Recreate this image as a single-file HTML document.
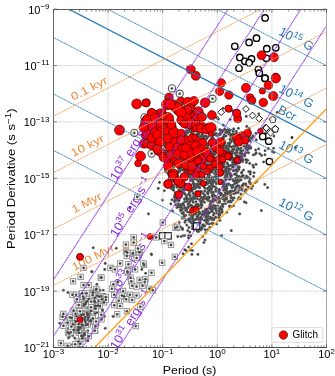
<!DOCTYPE html><html><head><meta charset="utf-8"><style>html,body{margin:0;padding:0;background:#fff;}svg{display:block;font-family:"Liberation Sans",sans-serif;will-change:transform;}</style></head><body>
<svg width="335" height="376" viewBox="0 0 335 376" xmlns="http://www.w3.org/2000/svg">
<defs><clipPath id="c"><rect x="53.5" y="9.1" width="273.0" height="338.4"/></clipPath></defs>
<g clip-path="url(#c)">
<g fill="#3c3c3c" stroke="#888" stroke-width="0.3">
<circle cx="190.4" cy="141.1" r="1.3"/>
<circle cx="221.2" cy="132.8" r="1.3"/>
<circle cx="210.4" cy="164.1" r="1.3"/>
<circle cx="199.9" cy="213.5" r="1.3"/>
<circle cx="171.6" cy="148.9" r="1.3"/>
<circle cx="214.2" cy="167.4" r="1.3"/>
<circle cx="240.7" cy="156.0" r="1.3"/>
<circle cx="173.6" cy="137.6" r="1.3"/>
<circle cx="189.0" cy="212.3" r="1.3"/>
<circle cx="177.0" cy="187.2" r="1.3"/>
<circle cx="220.1" cy="164.8" r="1.3"/>
<circle cx="211.5" cy="131.7" r="1.3"/>
<circle cx="165.6" cy="147.0" r="1.3"/>
<circle cx="224.0" cy="170.8" r="1.3"/>
<circle cx="189.5" cy="187.7" r="1.3"/>
<circle cx="202.6" cy="157.1" r="1.3"/>
<circle cx="182.9" cy="186.5" r="1.3"/>
<circle cx="209.4" cy="218.6" r="1.3"/>
<circle cx="228.6" cy="155.8" r="1.3"/>
<circle cx="252.1" cy="137.6" r="1.3"/>
<circle cx="199.3" cy="206.0" r="1.3"/>
<circle cx="174.3" cy="177.3" r="1.3"/>
<circle cx="231.9" cy="186.3" r="1.3"/>
<circle cx="242.3" cy="158.6" r="1.3"/>
<circle cx="225.4" cy="188.6" r="1.3"/>
<circle cx="214.5" cy="173.8" r="1.3"/>
<circle cx="204.6" cy="196.1" r="1.3"/>
<circle cx="237.3" cy="155.5" r="1.3"/>
<circle cx="196.3" cy="196.5" r="1.3"/>
<circle cx="175.8" cy="137.5" r="1.3"/>
<circle cx="172.2" cy="151.5" r="1.3"/>
<circle cx="196.7" cy="218.2" r="1.3"/>
<circle cx="167.6" cy="173.1" r="1.3"/>
<circle cx="211.6" cy="219.5" r="1.3"/>
<circle cx="186.2" cy="169.4" r="1.3"/>
<circle cx="193.7" cy="219.6" r="1.3"/>
<circle cx="250.0" cy="141.1" r="1.3"/>
<circle cx="176.6" cy="149.8" r="1.3"/>
<circle cx="181.9" cy="176.9" r="1.3"/>
<circle cx="215.4" cy="153.1" r="1.3"/>
<circle cx="194.7" cy="185.6" r="1.3"/>
<circle cx="208.5" cy="191.1" r="1.3"/>
<circle cx="223.6" cy="130.8" r="1.3"/>
<circle cx="196.9" cy="167.7" r="1.3"/>
<circle cx="179.6" cy="142.4" r="1.3"/>
<circle cx="192.0" cy="130.6" r="1.3"/>
<circle cx="169.5" cy="163.9" r="1.3"/>
<circle cx="217.7" cy="140.9" r="1.3"/>
<circle cx="183.7" cy="162.2" r="1.3"/>
<circle cx="194.2" cy="138.1" r="1.3"/>
<circle cx="203.8" cy="176.8" r="1.3"/>
<circle cx="192.2" cy="153.3" r="1.3"/>
<circle cx="237.9" cy="142.3" r="1.3"/>
<circle cx="209.7" cy="140.7" r="1.3"/>
<circle cx="211.1" cy="127.9" r="1.3"/>
<circle cx="184.5" cy="164.2" r="1.3"/>
<circle cx="210.1" cy="208.4" r="1.3"/>
<circle cx="191.0" cy="148.9" r="1.3"/>
<circle cx="181.3" cy="180.4" r="1.3"/>
<circle cx="193.4" cy="128.1" r="1.3"/>
<circle cx="162.6" cy="154.9" r="1.3"/>
<circle cx="184.4" cy="199.1" r="1.3"/>
<circle cx="180.7" cy="149.3" r="1.3"/>
<circle cx="178.5" cy="146.9" r="1.3"/>
<circle cx="239.0" cy="176.3" r="1.3"/>
<circle cx="221.4" cy="210.6" r="1.3"/>
<circle cx="230.5" cy="176.1" r="1.3"/>
<circle cx="191.3" cy="210.7" r="1.3"/>
<circle cx="197.7" cy="226.3" r="1.3"/>
<circle cx="228.1" cy="143.2" r="1.3"/>
<circle cx="171.9" cy="141.2" r="1.3"/>
<circle cx="192.9" cy="183.7" r="1.3"/>
<circle cx="200.8" cy="218.3" r="1.3"/>
<circle cx="237.7" cy="147.6" r="1.3"/>
<circle cx="183.7" cy="156.3" r="1.3"/>
<circle cx="182.6" cy="187.7" r="1.3"/>
<circle cx="184.4" cy="169.8" r="1.3"/>
<circle cx="193.3" cy="174.0" r="1.3"/>
<circle cx="199.5" cy="223.2" r="1.3"/>
<circle cx="207.2" cy="181.9" r="1.3"/>
<circle cx="209.2" cy="127.0" r="1.3"/>
<circle cx="201.4" cy="144.6" r="1.3"/>
<circle cx="176.2" cy="175.7" r="1.3"/>
<circle cx="228.2" cy="184.5" r="1.3"/>
<circle cx="190.6" cy="180.5" r="1.3"/>
<circle cx="212.2" cy="208.9" r="1.3"/>
<circle cx="170.0" cy="185.0" r="1.3"/>
<circle cx="183.4" cy="154.6" r="1.3"/>
<circle cx="232.6" cy="179.3" r="1.3"/>
<circle cx="212.8" cy="206.3" r="1.3"/>
<circle cx="217.6" cy="179.1" r="1.3"/>
<circle cx="208.1" cy="199.1" r="1.3"/>
<circle cx="202.5" cy="182.1" r="1.3"/>
<circle cx="204.9" cy="225.7" r="1.3"/>
<circle cx="248.6" cy="152.8" r="1.3"/>
<circle cx="239.0" cy="139.7" r="1.3"/>
<circle cx="171.4" cy="172.3" r="1.3"/>
<circle cx="166.8" cy="150.7" r="1.3"/>
<circle cx="174.5" cy="201.6" r="1.3"/>
<circle cx="222.1" cy="140.3" r="1.3"/>
<circle cx="197.4" cy="177.1" r="1.3"/>
<circle cx="175.2" cy="171.2" r="1.3"/>
<circle cx="208.5" cy="161.3" r="1.3"/>
<circle cx="178.4" cy="159.1" r="1.3"/>
<circle cx="212.1" cy="172.1" r="1.3"/>
<circle cx="218.6" cy="179.8" r="1.3"/>
<circle cx="169.8" cy="153.4" r="1.3"/>
<circle cx="185.4" cy="138.9" r="1.3"/>
<circle cx="199.7" cy="222.5" r="1.3"/>
<circle cx="237.0" cy="152.7" r="1.3"/>
<circle cx="213.6" cy="199.9" r="1.3"/>
<circle cx="224.7" cy="170.5" r="1.3"/>
<circle cx="219.6" cy="210.8" r="1.3"/>
<circle cx="202.7" cy="161.3" r="1.3"/>
<circle cx="185.2" cy="138.8" r="1.3"/>
<circle cx="209.5" cy="150.5" r="1.3"/>
<circle cx="170.3" cy="142.3" r="1.3"/>
<circle cx="164.7" cy="146.6" r="1.3"/>
<circle cx="189.3" cy="157.6" r="1.3"/>
<circle cx="231.4" cy="156.0" r="1.3"/>
<circle cx="207.0" cy="144.0" r="1.3"/>
<circle cx="228.9" cy="184.0" r="1.3"/>
<circle cx="177.8" cy="175.8" r="1.3"/>
<circle cx="247.9" cy="136.4" r="1.3"/>
<circle cx="237.0" cy="171.2" r="1.3"/>
<circle cx="206.5" cy="214.3" r="1.3"/>
<circle cx="197.0" cy="179.2" r="1.3"/>
<circle cx="192.2" cy="214.1" r="1.3"/>
<circle cx="226.4" cy="193.0" r="1.3"/>
<circle cx="198.0" cy="162.2" r="1.3"/>
<circle cx="165.1" cy="138.9" r="1.3"/>
<circle cx="184.0" cy="142.5" r="1.3"/>
<circle cx="186.5" cy="150.9" r="1.3"/>
<circle cx="187.5" cy="174.2" r="1.3"/>
<circle cx="174.8" cy="172.7" r="1.3"/>
<circle cx="189.1" cy="163.2" r="1.3"/>
<circle cx="204.6" cy="178.8" r="1.3"/>
<circle cx="178.9" cy="179.0" r="1.3"/>
<circle cx="168.4" cy="167.7" r="1.3"/>
<circle cx="188.6" cy="149.9" r="1.3"/>
<circle cx="215.0" cy="181.6" r="1.3"/>
<circle cx="230.6" cy="195.4" r="1.3"/>
<circle cx="196.6" cy="159.9" r="1.3"/>
<circle cx="228.1" cy="193.8" r="1.3"/>
<circle cx="173.1" cy="181.0" r="1.3"/>
<circle cx="207.4" cy="214.3" r="1.3"/>
<circle cx="224.2" cy="199.2" r="1.3"/>
<circle cx="172.5" cy="163.6" r="1.3"/>
<circle cx="212.5" cy="192.2" r="1.3"/>
<circle cx="218.9" cy="197.8" r="1.3"/>
<circle cx="207.3" cy="182.3" r="1.3"/>
<circle cx="222.0" cy="132.1" r="1.3"/>
<circle cx="229.3" cy="152.0" r="1.3"/>
<circle cx="167.0" cy="153.4" r="1.3"/>
<circle cx="228.6" cy="147.0" r="1.3"/>
<circle cx="206.4" cy="165.9" r="1.3"/>
<circle cx="205.0" cy="198.2" r="1.3"/>
<circle cx="232.1" cy="191.0" r="1.3"/>
<circle cx="220.4" cy="133.3" r="1.3"/>
<circle cx="173.9" cy="152.2" r="1.3"/>
<circle cx="229.9" cy="157.6" r="1.3"/>
<circle cx="165.7" cy="153.8" r="1.3"/>
<circle cx="223.2" cy="199.1" r="1.3"/>
<circle cx="223.5" cy="156.1" r="1.3"/>
<circle cx="208.6" cy="174.7" r="1.3"/>
<circle cx="203.8" cy="137.7" r="1.3"/>
<circle cx="244.0" cy="146.3" r="1.3"/>
<circle cx="202.2" cy="153.7" r="1.3"/>
<circle cx="179.8" cy="187.2" r="1.3"/>
<circle cx="173.3" cy="181.1" r="1.3"/>
<circle cx="249.6" cy="139.2" r="1.3"/>
<circle cx="237.1" cy="179.4" r="1.3"/>
<circle cx="205.7" cy="127.7" r="1.3"/>
<circle cx="202.4" cy="157.3" r="1.3"/>
<circle cx="173.2" cy="161.8" r="1.3"/>
<circle cx="189.7" cy="214.9" r="1.3"/>
<circle cx="238.9" cy="137.8" r="1.3"/>
<circle cx="244.7" cy="156.0" r="1.3"/>
<circle cx="195.0" cy="167.0" r="1.3"/>
<circle cx="193.9" cy="170.8" r="1.3"/>
<circle cx="186.8" cy="225.1" r="1.3"/>
<circle cx="183.4" cy="153.4" r="1.3"/>
<circle cx="208.0" cy="145.3" r="1.3"/>
<circle cx="195.1" cy="227.3" r="1.3"/>
<circle cx="227.6" cy="130.3" r="1.3"/>
<circle cx="228.8" cy="173.2" r="1.3"/>
<circle cx="230.8" cy="194.0" r="1.3"/>
<circle cx="186.9" cy="130.2" r="1.3"/>
<circle cx="247.1" cy="138.6" r="1.3"/>
<circle cx="204.4" cy="161.8" r="1.3"/>
<circle cx="188.0" cy="204.1" r="1.3"/>
<circle cx="221.7" cy="157.2" r="1.3"/>
<circle cx="212.4" cy="167.2" r="1.3"/>
<circle cx="175.7" cy="142.3" r="1.3"/>
<circle cx="206.7" cy="148.5" r="1.3"/>
<circle cx="202.3" cy="139.9" r="1.3"/>
<circle cx="178.1" cy="134.7" r="1.3"/>
<circle cx="192.1" cy="134.7" r="1.3"/>
<circle cx="182.5" cy="152.6" r="1.3"/>
<circle cx="213.5" cy="219.9" r="1.3"/>
<circle cx="230.5" cy="169.2" r="1.3"/>
<circle cx="198.9" cy="181.1" r="1.3"/>
<circle cx="195.4" cy="161.2" r="1.3"/>
<circle cx="165.8" cy="154.7" r="1.3"/>
<circle cx="251.0" cy="138.5" r="1.3"/>
<circle cx="207.3" cy="192.4" r="1.3"/>
<circle cx="241.1" cy="148.1" r="1.3"/>
<circle cx="185.5" cy="151.6" r="1.3"/>
<circle cx="197.6" cy="172.7" r="1.3"/>
<circle cx="196.8" cy="224.2" r="1.3"/>
<circle cx="170.3" cy="141.5" r="1.3"/>
<circle cx="209.1" cy="198.0" r="1.3"/>
<circle cx="220.9" cy="206.8" r="1.3"/>
<circle cx="203.0" cy="184.0" r="1.3"/>
<circle cx="220.7" cy="157.5" r="1.3"/>
<circle cx="172.0" cy="151.9" r="1.3"/>
<circle cx="219.8" cy="199.7" r="1.3"/>
<circle cx="209.3" cy="187.4" r="1.3"/>
<circle cx="196.5" cy="148.9" r="1.3"/>
<circle cx="188.3" cy="174.3" r="1.3"/>
<circle cx="243.1" cy="175.9" r="1.3"/>
<circle cx="182.1" cy="151.4" r="1.3"/>
<circle cx="206.8" cy="197.2" r="1.3"/>
<circle cx="199.5" cy="152.5" r="1.3"/>
<circle cx="191.8" cy="170.0" r="1.3"/>
<circle cx="224.2" cy="146.2" r="1.3"/>
<circle cx="207.5" cy="147.0" r="1.3"/>
<circle cx="237.1" cy="149.7" r="1.3"/>
<circle cx="180.8" cy="206.4" r="1.3"/>
<circle cx="206.6" cy="145.0" r="1.3"/>
<circle cx="181.0" cy="169.6" r="1.3"/>
<circle cx="173.8" cy="167.1" r="1.3"/>
<circle cx="165.7" cy="167.1" r="1.3"/>
<circle cx="247.6" cy="160.2" r="1.3"/>
<circle cx="222.5" cy="165.5" r="1.3"/>
<circle cx="195.1" cy="160.5" r="1.3"/>
<circle cx="186.3" cy="162.6" r="1.3"/>
<circle cx="249.8" cy="138.2" r="1.3"/>
<circle cx="250.6" cy="147.2" r="1.3"/>
<circle cx="193.5" cy="212.9" r="1.3"/>
<circle cx="237.3" cy="171.3" r="1.3"/>
<circle cx="195.0" cy="223.4" r="1.3"/>
<circle cx="178.1" cy="164.0" r="1.3"/>
<circle cx="198.6" cy="211.9" r="1.3"/>
<circle cx="246.5" cy="152.5" r="1.3"/>
<circle cx="191.9" cy="154.1" r="1.3"/>
<circle cx="184.6" cy="201.7" r="1.3"/>
<circle cx="189.7" cy="154.5" r="1.3"/>
<circle cx="182.0" cy="175.8" r="1.3"/>
<circle cx="196.3" cy="151.9" r="1.3"/>
<circle cx="200.4" cy="177.8" r="1.3"/>
<circle cx="247.2" cy="144.6" r="1.3"/>
<circle cx="217.1" cy="160.1" r="1.3"/>
<circle cx="190.0" cy="163.7" r="1.3"/>
<circle cx="233.5" cy="133.5" r="1.3"/>
<circle cx="178.5" cy="205.6" r="1.3"/>
<circle cx="183.2" cy="131.9" r="1.3"/>
<circle cx="184.9" cy="134.0" r="1.3"/>
<circle cx="169.1" cy="178.3" r="1.3"/>
<circle cx="226.7" cy="172.8" r="1.3"/>
<circle cx="182.0" cy="169.6" r="1.3"/>
<circle cx="218.3" cy="197.1" r="1.3"/>
<circle cx="222.5" cy="138.0" r="1.3"/>
<circle cx="239.0" cy="156.4" r="1.3"/>
<circle cx="213.3" cy="164.9" r="1.3"/>
<circle cx="229.4" cy="146.3" r="1.3"/>
<circle cx="183.3" cy="151.3" r="1.3"/>
<circle cx="214.4" cy="159.9" r="1.3"/>
<circle cx="197.2" cy="231.2" r="1.3"/>
<circle cx="207.7" cy="149.8" r="1.3"/>
<circle cx="253.1" cy="135.9" r="1.3"/>
<circle cx="204.6" cy="212.6" r="1.3"/>
<circle cx="163.8" cy="156.4" r="1.3"/>
<circle cx="171.2" cy="145.3" r="1.3"/>
<circle cx="241.4" cy="173.1" r="1.3"/>
<circle cx="184.4" cy="208.2" r="1.3"/>
<circle cx="248.9" cy="136.3" r="1.3"/>
<circle cx="216.0" cy="191.3" r="1.3"/>
<circle cx="180.5" cy="164.5" r="1.3"/>
<circle cx="173.3" cy="146.8" r="1.3"/>
<circle cx="184.0" cy="189.1" r="1.3"/>
<circle cx="221.3" cy="146.8" r="1.3"/>
<circle cx="223.8" cy="144.8" r="1.3"/>
<circle cx="189.3" cy="146.8" r="1.3"/>
<circle cx="234.8" cy="183.6" r="1.3"/>
<circle cx="197.2" cy="183.9" r="1.3"/>
<circle cx="220.1" cy="134.8" r="1.3"/>
<circle cx="175.4" cy="199.4" r="1.3"/>
<circle cx="198.5" cy="155.3" r="1.3"/>
<circle cx="189.4" cy="185.6" r="1.3"/>
<circle cx="193.6" cy="169.6" r="1.3"/>
<circle cx="194.2" cy="146.1" r="1.3"/>
<circle cx="228.4" cy="146.8" r="1.3"/>
<circle cx="199.8" cy="212.8" r="1.3"/>
<circle cx="198.2" cy="219.5" r="1.3"/>
<circle cx="203.3" cy="142.4" r="1.3"/>
<circle cx="194.9" cy="179.0" r="1.3"/>
<circle cx="173.7" cy="155.3" r="1.3"/>
<circle cx="209.0" cy="224.0" r="1.3"/>
<circle cx="170.2" cy="177.5" r="1.3"/>
<circle cx="178.6" cy="138.6" r="1.3"/>
<circle cx="205.4" cy="130.7" r="1.3"/>
<circle cx="237.5" cy="142.1" r="1.3"/>
<circle cx="233.9" cy="148.8" r="1.3"/>
<circle cx="198.0" cy="215.6" r="1.3"/>
<circle cx="237.9" cy="144.6" r="1.3"/>
<circle cx="180.5" cy="167.8" r="1.3"/>
<circle cx="208.7" cy="166.0" r="1.3"/>
<circle cx="171.6" cy="151.4" r="1.3"/>
<circle cx="238.8" cy="137.6" r="1.3"/>
<circle cx="216.4" cy="183.9" r="1.3"/>
<circle cx="218.9" cy="157.8" r="1.3"/>
<circle cx="199.5" cy="187.3" r="1.3"/>
<circle cx="200.0" cy="195.5" r="1.3"/>
<circle cx="202.0" cy="171.9" r="1.3"/>
<circle cx="206.0" cy="150.2" r="1.3"/>
<circle cx="203.1" cy="144.2" r="1.3"/>
<circle cx="204.5" cy="136.5" r="1.3"/>
<circle cx="172.1" cy="171.1" r="1.3"/>
<circle cx="168.6" cy="172.3" r="1.3"/>
<circle cx="208.0" cy="129.4" r="1.3"/>
<circle cx="219.8" cy="133.8" r="1.3"/>
<circle cx="208.1" cy="130.8" r="1.3"/>
<circle cx="207.4" cy="165.4" r="1.3"/>
<circle cx="249.4" cy="139.6" r="1.3"/>
<circle cx="246.1" cy="142.7" r="1.3"/>
<circle cx="166.2" cy="162.5" r="1.3"/>
<circle cx="231.1" cy="142.0" r="1.3"/>
<circle cx="244.3" cy="154.4" r="1.3"/>
<circle cx="236.7" cy="140.4" r="1.3"/>
<circle cx="207.2" cy="223.4" r="1.3"/>
<circle cx="179.6" cy="153.1" r="1.3"/>
<circle cx="207.6" cy="159.1" r="1.3"/>
<circle cx="163.5" cy="144.5" r="1.3"/>
<circle cx="170.8" cy="181.8" r="1.3"/>
<circle cx="219.8" cy="163.5" r="1.3"/>
<circle cx="219.2" cy="167.2" r="1.3"/>
<circle cx="235.0" cy="153.3" r="1.3"/>
<circle cx="193.9" cy="206.8" r="1.3"/>
<circle cx="201.6" cy="143.9" r="1.3"/>
<circle cx="229.9" cy="130.2" r="1.3"/>
<circle cx="237.1" cy="152.1" r="1.3"/>
<circle cx="215.1" cy="196.0" r="1.3"/>
<circle cx="163.2" cy="141.0" r="1.3"/>
<circle cx="217.9" cy="171.2" r="1.3"/>
<circle cx="208.2" cy="220.8" r="1.3"/>
<circle cx="172.4" cy="149.3" r="1.3"/>
<circle cx="170.0" cy="163.2" r="1.3"/>
<circle cx="181.1" cy="187.4" r="1.3"/>
<circle cx="215.4" cy="146.8" r="1.3"/>
<circle cx="218.6" cy="175.8" r="1.3"/>
<circle cx="182.9" cy="141.0" r="1.3"/>
<circle cx="197.8" cy="153.3" r="1.3"/>
<circle cx="212.9" cy="162.5" r="1.3"/>
<circle cx="220.7" cy="172.5" r="1.3"/>
<circle cx="198.2" cy="150.4" r="1.3"/>
<circle cx="248.4" cy="140.2" r="1.3"/>
<circle cx="178.8" cy="190.1" r="1.3"/>
<circle cx="207.7" cy="193.6" r="1.3"/>
<circle cx="236.5" cy="143.7" r="1.3"/>
<circle cx="189.1" cy="157.1" r="1.3"/>
<circle cx="230.0" cy="174.8" r="1.3"/>
<circle cx="229.7" cy="173.4" r="1.3"/>
<circle cx="181.2" cy="136.3" r="1.3"/>
<circle cx="191.5" cy="205.2" r="1.3"/>
<circle cx="226.9" cy="153.5" r="1.3"/>
<circle cx="212.1" cy="171.7" r="1.3"/>
<circle cx="234.1" cy="181.0" r="1.3"/>
<circle cx="184.9" cy="193.7" r="1.3"/>
<circle cx="250.7" cy="148.2" r="1.3"/>
<circle cx="184.5" cy="150.3" r="1.3"/>
<circle cx="230.1" cy="160.0" r="1.3"/>
<circle cx="242.7" cy="160.2" r="1.3"/>
<circle cx="219.3" cy="199.1" r="1.3"/>
<circle cx="204.1" cy="214.8" r="1.3"/>
<circle cx="201.1" cy="202.5" r="1.3"/>
<circle cx="213.6" cy="157.9" r="1.3"/>
<circle cx="179.9" cy="191.6" r="1.3"/>
<circle cx="192.4" cy="140.2" r="1.3"/>
<circle cx="225.1" cy="192.8" r="1.3"/>
<circle cx="225.5" cy="203.8" r="1.3"/>
<circle cx="194.2" cy="212.5" r="1.3"/>
<circle cx="170.1" cy="147.0" r="1.3"/>
<circle cx="219.6" cy="213.3" r="1.3"/>
<circle cx="219.4" cy="155.7" r="1.3"/>
<circle cx="231.2" cy="146.9" r="1.3"/>
<circle cx="190.0" cy="170.3" r="1.3"/>
<circle cx="186.6" cy="201.6" r="1.3"/>
<circle cx="194.6" cy="159.3" r="1.3"/>
<circle cx="201.0" cy="207.7" r="1.3"/>
<circle cx="192.6" cy="200.4" r="1.3"/>
<circle cx="210.6" cy="148.2" r="1.3"/>
<circle cx="241.1" cy="134.7" r="1.3"/>
<circle cx="237.1" cy="143.2" r="1.3"/>
<circle cx="206.2" cy="210.3" r="1.3"/>
<circle cx="177.3" cy="177.9" r="1.3"/>
<circle cx="192.6" cy="214.0" r="1.3"/>
<circle cx="186.7" cy="148.0" r="1.3"/>
<circle cx="225.8" cy="178.3" r="1.3"/>
<circle cx="219.0" cy="163.1" r="1.3"/>
<circle cx="197.7" cy="167.2" r="1.3"/>
<circle cx="243.7" cy="134.2" r="1.3"/>
<circle cx="179.4" cy="153.2" r="1.3"/>
<circle cx="195.7" cy="219.6" r="1.3"/>
<circle cx="182.0" cy="174.3" r="1.3"/>
<circle cx="210.0" cy="205.7" r="1.3"/>
<circle cx="230.8" cy="194.2" r="1.3"/>
<circle cx="192.8" cy="160.0" r="1.3"/>
<circle cx="222.2" cy="204.4" r="1.3"/>
<circle cx="175.9" cy="172.0" r="1.3"/>
<circle cx="232.7" cy="187.0" r="1.3"/>
<circle cx="171.8" cy="174.4" r="1.3"/>
<circle cx="243.2" cy="150.5" r="1.3"/>
<circle cx="178.0" cy="157.3" r="1.3"/>
<circle cx="174.5" cy="141.7" r="1.3"/>
<circle cx="183.3" cy="159.9" r="1.3"/>
<circle cx="209.1" cy="142.2" r="1.3"/>
<circle cx="190.8" cy="145.3" r="1.3"/>
<circle cx="169.6" cy="166.1" r="1.3"/>
<circle cx="228.9" cy="171.5" r="1.3"/>
<circle cx="178.4" cy="193.3" r="1.3"/>
<circle cx="170.0" cy="147.1" r="1.3"/>
<circle cx="196.5" cy="128.6" r="1.3"/>
<circle cx="197.5" cy="209.6" r="1.3"/>
<circle cx="225.2" cy="178.6" r="1.3"/>
<circle cx="219.4" cy="174.6" r="1.3"/>
<circle cx="173.3" cy="189.6" r="1.3"/>
<circle cx="198.0" cy="204.3" r="1.3"/>
<circle cx="214.0" cy="205.2" r="1.3"/>
<circle cx="199.6" cy="149.5" r="1.3"/>
<circle cx="232.8" cy="199.9" r="1.3"/>
<circle cx="220.3" cy="173.6" r="1.3"/>
<circle cx="189.4" cy="192.2" r="1.3"/>
<circle cx="169.2" cy="169.9" r="1.3"/>
<circle cx="219.2" cy="151.8" r="1.3"/>
<circle cx="199.8" cy="173.7" r="1.3"/>
<circle cx="218.4" cy="168.8" r="1.3"/>
<circle cx="177.2" cy="195.0" r="1.3"/>
<circle cx="233.1" cy="166.6" r="1.3"/>
<circle cx="169.5" cy="186.5" r="1.3"/>
<circle cx="210.9" cy="201.8" r="1.3"/>
<circle cx="208.1" cy="193.4" r="1.3"/>
<circle cx="237.9" cy="180.8" r="1.3"/>
<circle cx="198.6" cy="226.4" r="1.3"/>
<circle cx="179.7" cy="198.2" r="1.3"/>
<circle cx="196.9" cy="206.6" r="1.3"/>
<circle cx="193.4" cy="131.1" r="1.3"/>
<circle cx="185.8" cy="167.8" r="1.3"/>
<circle cx="199.5" cy="199.7" r="1.3"/>
<circle cx="193.1" cy="153.4" r="1.3"/>
<circle cx="181.1" cy="204.3" r="1.3"/>
<circle cx="180.6" cy="210.8" r="1.3"/>
<circle cx="196.8" cy="147.7" r="1.3"/>
<circle cx="236.1" cy="192.9" r="1.3"/>
<circle cx="204.1" cy="185.1" r="1.3"/>
<circle cx="193.2" cy="193.4" r="1.3"/>
<circle cx="204.0" cy="156.5" r="1.3"/>
<circle cx="211.5" cy="138.4" r="1.3"/>
<circle cx="238.4" cy="163.0" r="1.3"/>
<circle cx="240.0" cy="153.6" r="1.3"/>
<circle cx="195.4" cy="152.1" r="1.3"/>
<circle cx="200.1" cy="144.9" r="1.3"/>
<circle cx="186.4" cy="151.2" r="1.3"/>
<circle cx="188.4" cy="176.3" r="1.3"/>
<circle cx="200.3" cy="193.2" r="1.3"/>
<circle cx="222.0" cy="163.8" r="1.3"/>
<circle cx="221.7" cy="151.8" r="1.3"/>
<circle cx="169.5" cy="140.3" r="1.3"/>
<circle cx="182.0" cy="208.1" r="1.3"/>
<circle cx="192.6" cy="141.3" r="1.3"/>
<circle cx="217.2" cy="208.6" r="1.3"/>
<circle cx="178.6" cy="199.1" r="1.3"/>
<circle cx="209.9" cy="204.4" r="1.3"/>
<circle cx="201.2" cy="219.4" r="1.3"/>
<circle cx="212.2" cy="153.3" r="1.3"/>
<circle cx="182.0" cy="139.9" r="1.3"/>
<circle cx="206.3" cy="131.3" r="1.3"/>
<circle cx="203.9" cy="140.5" r="1.3"/>
<circle cx="206.2" cy="178.3" r="1.3"/>
<circle cx="210.7" cy="217.3" r="1.3"/>
<circle cx="204.0" cy="185.2" r="1.3"/>
<circle cx="195.2" cy="169.8" r="1.3"/>
<circle cx="250.3" cy="133.1" r="1.3"/>
<circle cx="219.9" cy="193.1" r="1.3"/>
<circle cx="208.0" cy="176.9" r="1.3"/>
<circle cx="227.5" cy="191.9" r="1.3"/>
<circle cx="191.8" cy="217.2" r="1.3"/>
<circle cx="194.4" cy="175.8" r="1.3"/>
<circle cx="209.4" cy="207.5" r="1.3"/>
<circle cx="179.8" cy="171.6" r="1.3"/>
<circle cx="199.7" cy="184.3" r="1.3"/>
<circle cx="237.7" cy="156.3" r="1.3"/>
<circle cx="237.8" cy="168.2" r="1.3"/>
<circle cx="207.4" cy="154.1" r="1.3"/>
<circle cx="221.5" cy="209.7" r="1.3"/>
<circle cx="191.1" cy="158.9" r="1.3"/>
<circle cx="188.1" cy="187.8" r="1.3"/>
<circle cx="219.7" cy="208.9" r="1.3"/>
<circle cx="164.7" cy="157.1" r="1.3"/>
<circle cx="221.9" cy="209.4" r="1.3"/>
<circle cx="218.0" cy="192.1" r="1.3"/>
<circle cx="225.5" cy="188.8" r="1.3"/>
<circle cx="224.0" cy="147.7" r="1.3"/>
<circle cx="222.7" cy="174.0" r="1.3"/>
<circle cx="231.7" cy="135.8" r="1.3"/>
<circle cx="221.6" cy="164.5" r="1.3"/>
<circle cx="212.8" cy="152.6" r="1.3"/>
<circle cx="188.4" cy="170.1" r="1.3"/>
<circle cx="189.9" cy="171.1" r="1.3"/>
<circle cx="236.2" cy="186.6" r="1.3"/>
<circle cx="198.8" cy="135.9" r="1.3"/>
<circle cx="220.6" cy="147.7" r="1.3"/>
<circle cx="227.6" cy="150.9" r="1.3"/>
<circle cx="229.0" cy="145.1" r="1.3"/>
<circle cx="228.6" cy="134.0" r="1.3"/>
<circle cx="219.1" cy="200.9" r="1.3"/>
<circle cx="203.3" cy="224.8" r="1.3"/>
<circle cx="236.8" cy="133.5" r="1.3"/>
<circle cx="189.2" cy="203.1" r="1.3"/>
<circle cx="205.7" cy="131.4" r="1.3"/>
<circle cx="194.6" cy="186.5" r="1.3"/>
<circle cx="201.2" cy="197.4" r="1.3"/>
<circle cx="194.1" cy="194.0" r="1.3"/>
<circle cx="219.2" cy="169.7" r="1.3"/>
<circle cx="196.3" cy="209.1" r="1.3"/>
<circle cx="213.3" cy="156.3" r="1.3"/>
<circle cx="191.2" cy="189.8" r="1.3"/>
<circle cx="216.5" cy="158.0" r="1.3"/>
<circle cx="200.3" cy="220.0" r="1.3"/>
<circle cx="195.4" cy="198.3" r="1.3"/>
<circle cx="235.9" cy="155.3" r="1.3"/>
<circle cx="199.7" cy="187.8" r="1.3"/>
<circle cx="213.8" cy="154.3" r="1.3"/>
<circle cx="192.6" cy="134.1" r="1.3"/>
<circle cx="212.0" cy="210.3" r="1.3"/>
<circle cx="178.8" cy="205.3" r="1.3"/>
<circle cx="247.6" cy="150.0" r="1.3"/>
<circle cx="217.0" cy="197.5" r="1.3"/>
<circle cx="203.7" cy="147.1" r="1.3"/>
<circle cx="183.9" cy="205.4" r="1.3"/>
<circle cx="234.4" cy="174.2" r="1.3"/>
<circle cx="232.6" cy="149.9" r="1.3"/>
<circle cx="204.8" cy="188.1" r="1.3"/>
<circle cx="177.8" cy="145.6" r="1.3"/>
<circle cx="177.0" cy="200.0" r="1.3"/>
<circle cx="194.1" cy="185.4" r="1.3"/>
<circle cx="197.8" cy="180.3" r="1.3"/>
<circle cx="234.0" cy="141.7" r="1.3"/>
<circle cx="216.1" cy="161.9" r="1.3"/>
<circle cx="208.8" cy="127.2" r="1.3"/>
<circle cx="241.4" cy="177.0" r="1.3"/>
<circle cx="213.3" cy="153.0" r="1.3"/>
<circle cx="233.2" cy="170.6" r="1.3"/>
<circle cx="178.9" cy="144.3" r="1.3"/>
<circle cx="212.4" cy="218.2" r="1.3"/>
<circle cx="203.1" cy="226.4" r="1.3"/>
<circle cx="245.5" cy="131.9" r="1.3"/>
<circle cx="216.2" cy="167.5" r="1.3"/>
<circle cx="184.2" cy="185.4" r="1.3"/>
<circle cx="223.0" cy="167.1" r="1.3"/>
<circle cx="202.1" cy="142.1" r="1.3"/>
<circle cx="184.1" cy="162.7" r="1.3"/>
<circle cx="165.2" cy="140.5" r="1.3"/>
<circle cx="223.6" cy="157.0" r="1.3"/>
<circle cx="215.6" cy="206.1" r="1.3"/>
<circle cx="169.9" cy="159.7" r="1.3"/>
<circle cx="184.2" cy="138.3" r="1.3"/>
<circle cx="205.2" cy="143.0" r="1.3"/>
<circle cx="182.4" cy="140.3" r="1.3"/>
<circle cx="227.4" cy="145.9" r="1.3"/>
<circle cx="173.1" cy="172.9" r="1.3"/>
<circle cx="202.5" cy="161.4" r="1.3"/>
<circle cx="237.4" cy="176.1" r="1.3"/>
<circle cx="219.0" cy="140.3" r="1.3"/>
<circle cx="227.1" cy="184.2" r="1.3"/>
<circle cx="185.0" cy="169.1" r="1.3"/>
<circle cx="174.6" cy="154.0" r="1.3"/>
<circle cx="238.9" cy="160.8" r="1.3"/>
<circle cx="175.8" cy="177.5" r="1.3"/>
<circle cx="189.9" cy="221.6" r="1.3"/>
<circle cx="222.8" cy="147.6" r="1.3"/>
<circle cx="204.9" cy="155.6" r="1.3"/>
<circle cx="184.2" cy="146.6" r="1.3"/>
<circle cx="169.2" cy="156.0" r="1.3"/>
<circle cx="228.3" cy="156.4" r="1.3"/>
<circle cx="235.9" cy="161.5" r="1.3"/>
<circle cx="238.2" cy="181.3" r="1.3"/>
<circle cx="177.5" cy="171.6" r="1.3"/>
<circle cx="245.7" cy="148.4" r="1.3"/>
<circle cx="213.7" cy="139.8" r="1.3"/>
<circle cx="176.9" cy="207.4" r="1.3"/>
<circle cx="226.9" cy="146.0" r="1.3"/>
<circle cx="217.2" cy="178.0" r="1.3"/>
<circle cx="185.7" cy="147.0" r="1.3"/>
<circle cx="217.6" cy="200.7" r="1.3"/>
<circle cx="236.3" cy="187.4" r="1.3"/>
<circle cx="228.9" cy="168.7" r="1.3"/>
<circle cx="227.8" cy="130.9" r="1.3"/>
<circle cx="236.2" cy="160.9" r="1.3"/>
<circle cx="206.3" cy="126.7" r="1.3"/>
<circle cx="242.0" cy="153.5" r="1.3"/>
<circle cx="194.5" cy="142.5" r="1.3"/>
<circle cx="194.9" cy="188.7" r="1.3"/>
<circle cx="201.9" cy="180.2" r="1.3"/>
<circle cx="190.2" cy="201.1" r="1.3"/>
<circle cx="195.9" cy="205.4" r="1.3"/>
<circle cx="208.3" cy="181.8" r="1.3"/>
<circle cx="210.5" cy="127.2" r="1.3"/>
<circle cx="177.1" cy="136.0" r="1.3"/>
<circle cx="183.5" cy="212.4" r="1.3"/>
<circle cx="225.7" cy="145.9" r="1.3"/>
<circle cx="214.2" cy="181.0" r="1.3"/>
<circle cx="226.0" cy="136.0" r="1.3"/>
<circle cx="206.4" cy="178.6" r="1.3"/>
<circle cx="186.3" cy="138.1" r="1.3"/>
<circle cx="198.1" cy="139.7" r="1.3"/>
<circle cx="215.6" cy="217.1" r="1.3"/>
<circle cx="173.8" cy="186.3" r="1.3"/>
<circle cx="230.2" cy="142.6" r="1.3"/>
<circle cx="196.5" cy="170.0" r="1.3"/>
<circle cx="238.9" cy="181.2" r="1.3"/>
<circle cx="197.2" cy="225.7" r="1.3"/>
<circle cx="233.0" cy="161.2" r="1.3"/>
<circle cx="182.6" cy="160.9" r="1.3"/>
<circle cx="200.9" cy="230.0" r="1.3"/>
<circle cx="183.4" cy="170.2" r="1.3"/>
<circle cx="219.5" cy="164.0" r="1.3"/>
<circle cx="209.9" cy="132.4" r="1.3"/>
<circle cx="200.7" cy="179.0" r="1.3"/>
<circle cx="162.0" cy="139.9" r="1.3"/>
<circle cx="220.3" cy="153.4" r="1.3"/>
<circle cx="223.8" cy="154.3" r="1.3"/>
<circle cx="218.4" cy="151.8" r="1.3"/>
<circle cx="208.9" cy="171.4" r="1.3"/>
<circle cx="188.7" cy="194.3" r="1.3"/>
<circle cx="171.3" cy="188.6" r="1.3"/>
<circle cx="185.2" cy="174.9" r="1.3"/>
<circle cx="210.2" cy="140.9" r="1.3"/>
<circle cx="171.6" cy="139.1" r="1.3"/>
<circle cx="187.6" cy="168.5" r="1.3"/>
<circle cx="187.1" cy="151.0" r="1.3"/>
<circle cx="168.3" cy="183.5" r="1.3"/>
<circle cx="213.6" cy="194.6" r="1.3"/>
<circle cx="178.9" cy="201.0" r="1.3"/>
<circle cx="203.3" cy="183.6" r="1.3"/>
<circle cx="217.6" cy="175.2" r="1.3"/>
<circle cx="189.2" cy="150.9" r="1.3"/>
<circle cx="180.8" cy="179.8" r="1.3"/>
<circle cx="196.0" cy="187.7" r="1.3"/>
<circle cx="241.0" cy="150.5" r="1.3"/>
<circle cx="212.3" cy="177.6" r="1.3"/>
<circle cx="187.8" cy="207.6" r="1.3"/>
<circle cx="241.9" cy="172.1" r="1.3"/>
<circle cx="165.8" cy="166.5" r="1.3"/>
<circle cx="201.4" cy="203.7" r="1.3"/>
<circle cx="170.3" cy="149.1" r="1.3"/>
<circle cx="174.5" cy="161.1" r="1.3"/>
<circle cx="193.1" cy="197.3" r="1.3"/>
<circle cx="237.2" cy="180.4" r="1.3"/>
<circle cx="231.4" cy="175.9" r="1.3"/>
<circle cx="246.0" cy="138.6" r="1.3"/>
<circle cx="232.0" cy="187.7" r="1.3"/>
<circle cx="213.8" cy="169.7" r="1.3"/>
<circle cx="217.1" cy="165.6" r="1.3"/>
<circle cx="202.5" cy="174.0" r="1.3"/>
<circle cx="228.0" cy="156.3" r="1.3"/>
<circle cx="196.7" cy="184.4" r="1.3"/>
<circle cx="196.1" cy="159.5" r="1.3"/>
<circle cx="207.0" cy="172.5" r="1.3"/>
<circle cx="177.3" cy="157.5" r="1.3"/>
<circle cx="173.6" cy="186.6" r="1.3"/>
<circle cx="214.7" cy="134.4" r="1.3"/>
<circle cx="246.5" cy="159.7" r="1.3"/>
<circle cx="250.1" cy="146.9" r="1.3"/>
<circle cx="200.1" cy="222.4" r="1.3"/>
<circle cx="213.1" cy="178.2" r="1.3"/>
<circle cx="208.6" cy="180.3" r="1.3"/>
<circle cx="224.4" cy="166.7" r="1.3"/>
<circle cx="193.6" cy="188.6" r="1.3"/>
<circle cx="193.0" cy="226.4" r="1.3"/>
<circle cx="223.6" cy="181.2" r="1.3"/>
<circle cx="169.3" cy="165.1" r="1.3"/>
<circle cx="197.7" cy="185.1" r="1.3"/>
<circle cx="214.0" cy="219.1" r="1.3"/>
<circle cx="201.4" cy="191.8" r="1.3"/>
<circle cx="209.8" cy="212.3" r="1.3"/>
<circle cx="176.0" cy="159.0" r="1.3"/>
<circle cx="208.2" cy="136.8" r="1.3"/>
<circle cx="243.5" cy="170.0" r="1.3"/>
<circle cx="174.7" cy="156.0" r="1.3"/>
<circle cx="208.1" cy="179.0" r="1.3"/>
<circle cx="177.7" cy="144.5" r="1.3"/>
<circle cx="219.2" cy="189.5" r="1.3"/>
<circle cx="219.8" cy="129.5" r="1.3"/>
<circle cx="198.7" cy="209.3" r="1.3"/>
<circle cx="188.8" cy="198.9" r="1.3"/>
<circle cx="222.8" cy="146.0" r="1.3"/>
<circle cx="206.8" cy="184.2" r="1.3"/>
<circle cx="185.0" cy="194.2" r="1.3"/>
<circle cx="214.0" cy="169.0" r="1.3"/>
<circle cx="171.4" cy="141.8" r="1.3"/>
<circle cx="231.4" cy="136.4" r="1.3"/>
<circle cx="169.4" cy="143.2" r="1.3"/>
<circle cx="209.1" cy="213.1" r="1.3"/>
<circle cx="217.6" cy="211.3" r="1.3"/>
<circle cx="232.4" cy="159.5" r="1.3"/>
<circle cx="227.3" cy="162.9" r="1.3"/>
<circle cx="175.9" cy="153.5" r="1.3"/>
<circle cx="214.7" cy="162.3" r="1.3"/>
<circle cx="202.3" cy="166.3" r="1.3"/>
<circle cx="201.3" cy="191.4" r="1.3"/>
<circle cx="189.6" cy="221.2" r="1.3"/>
<circle cx="236.7" cy="157.5" r="1.3"/>
<circle cx="182.8" cy="166.7" r="1.3"/>
<circle cx="227.5" cy="148.7" r="1.3"/>
<circle cx="189.1" cy="218.7" r="1.3"/>
<circle cx="205.5" cy="209.8" r="1.3"/>
<circle cx="182.9" cy="143.6" r="1.3"/>
<circle cx="193.7" cy="145.0" r="1.3"/>
<circle cx="212.8" cy="137.3" r="1.3"/>
<circle cx="210.2" cy="166.3" r="1.3"/>
<circle cx="197.9" cy="132.0" r="1.3"/>
<circle cx="193.0" cy="151.2" r="1.3"/>
<circle cx="178.0" cy="155.3" r="1.3"/>
<circle cx="222.4" cy="161.5" r="1.3"/>
<circle cx="174.7" cy="200.5" r="1.3"/>
<circle cx="168.7" cy="153.9" r="1.3"/>
<circle cx="238.5" cy="138.7" r="1.3"/>
<circle cx="201.7" cy="214.5" r="1.3"/>
<circle cx="235.7" cy="142.0" r="1.3"/>
<circle cx="193.2" cy="202.3" r="1.3"/>
<circle cx="195.4" cy="227.5" r="1.3"/>
<circle cx="207.5" cy="149.3" r="1.3"/>
<circle cx="202.6" cy="139.0" r="1.3"/>
<circle cx="226.4" cy="152.9" r="1.3"/>
<circle cx="194.6" cy="151.3" r="1.3"/>
<circle cx="217.2" cy="147.7" r="1.3"/>
<circle cx="242.0" cy="138.1" r="1.3"/>
<circle cx="208.2" cy="183.1" r="1.3"/>
<circle cx="185.4" cy="207.6" r="1.3"/>
<circle cx="196.2" cy="195.4" r="1.3"/>
<circle cx="213.4" cy="158.3" r="1.3"/>
<circle cx="196.7" cy="134.2" r="1.3"/>
<circle cx="190.2" cy="195.9" r="1.3"/>
<circle cx="170.2" cy="185.1" r="1.3"/>
<circle cx="194.0" cy="178.5" r="1.3"/>
<circle cx="187.9" cy="132.1" r="1.3"/>
<circle cx="189.3" cy="149.2" r="1.3"/>
<circle cx="186.5" cy="168.2" r="1.3"/>
<circle cx="172.4" cy="154.6" r="1.3"/>
<circle cx="222.4" cy="162.6" r="1.3"/>
<circle cx="198.8" cy="195.5" r="1.3"/>
<circle cx="225.7" cy="151.6" r="1.3"/>
<circle cx="239.6" cy="162.7" r="1.3"/>
<circle cx="219.1" cy="144.4" r="1.3"/>
<circle cx="229.0" cy="201.2" r="1.3"/>
<circle cx="175.2" cy="146.2" r="1.3"/>
<circle cx="188.5" cy="165.7" r="1.3"/>
<circle cx="163.7" cy="158.3" r="1.3"/>
<circle cx="220.0" cy="144.2" r="1.3"/>
<circle cx="238.9" cy="186.0" r="1.3"/>
<circle cx="227.4" cy="152.3" r="1.3"/>
<circle cx="200.9" cy="198.2" r="1.3"/>
<circle cx="164.5" cy="151.2" r="1.3"/>
<circle cx="230.5" cy="134.2" r="1.3"/>
<circle cx="225.3" cy="167.1" r="1.3"/>
<circle cx="186.4" cy="134.6" r="1.3"/>
<circle cx="219.0" cy="173.4" r="1.3"/>
<circle cx="200.3" cy="179.8" r="1.3"/>
<circle cx="247.2" cy="138.7" r="1.3"/>
<circle cx="184.6" cy="183.5" r="1.3"/>
<circle cx="211.1" cy="151.7" r="1.3"/>
<circle cx="165.6" cy="163.3" r="1.3"/>
<circle cx="198.7" cy="146.6" r="1.3"/>
<circle cx="189.2" cy="139.6" r="1.3"/>
<circle cx="226.5" cy="196.7" r="1.3"/>
<circle cx="182.4" cy="150.9" r="1.3"/>
<circle cx="208.4" cy="172.6" r="1.3"/>
<circle cx="188.1" cy="219.7" r="1.3"/>
<circle cx="173.3" cy="185.3" r="1.3"/>
<circle cx="191.4" cy="212.2" r="1.3"/>
<circle cx="211.5" cy="206.4" r="1.3"/>
<circle cx="175.9" cy="196.3" r="1.3"/>
<circle cx="216.3" cy="174.3" r="1.3"/>
<circle cx="170.8" cy="156.0" r="1.3"/>
<circle cx="193.9" cy="147.1" r="1.3"/>
<circle cx="165.7" cy="155.1" r="1.3"/>
<circle cx="178.5" cy="200.1" r="1.3"/>
<circle cx="202.1" cy="137.1" r="1.3"/>
<circle cx="190.5" cy="175.1" r="1.3"/>
<circle cx="194.1" cy="143.0" r="1.3"/>
<circle cx="170.2" cy="177.3" r="1.3"/>
<circle cx="200.8" cy="145.3" r="1.3"/>
<circle cx="221.3" cy="151.9" r="1.3"/>
<circle cx="183.1" cy="139.8" r="1.3"/>
<circle cx="238.9" cy="156.7" r="1.3"/>
<circle cx="177.5" cy="193.3" r="1.3"/>
<circle cx="190.7" cy="144.7" r="1.3"/>
<circle cx="237.6" cy="159.3" r="1.3"/>
<circle cx="194.6" cy="184.0" r="1.3"/>
<circle cx="194.7" cy="214.0" r="1.3"/>
<circle cx="213.3" cy="192.2" r="1.3"/>
<circle cx="206.5" cy="178.4" r="1.3"/>
<circle cx="174.8" cy="157.1" r="1.3"/>
<circle cx="214.6" cy="133.6" r="1.3"/>
<circle cx="224.7" cy="142.5" r="1.3"/>
<circle cx="201.7" cy="228.8" r="1.3"/>
<circle cx="201.3" cy="145.4" r="1.3"/>
<circle cx="234.0" cy="170.5" r="1.3"/>
<circle cx="186.6" cy="195.8" r="1.3"/>
<circle cx="208.4" cy="170.1" r="1.3"/>
<circle cx="191.8" cy="171.9" r="1.3"/>
<circle cx="245.0" cy="142.6" r="1.3"/>
<circle cx="187.8" cy="172.4" r="1.3"/>
<circle cx="213.0" cy="162.2" r="1.3"/>
<circle cx="178.4" cy="134.1" r="1.3"/>
<circle cx="190.4" cy="174.3" r="1.3"/>
<circle cx="236.2" cy="131.4" r="1.3"/>
<circle cx="223.6" cy="190.2" r="1.3"/>
<circle cx="187.9" cy="186.1" r="1.3"/>
<circle cx="220.9" cy="157.0" r="1.3"/>
<circle cx="192.3" cy="219.7" r="1.3"/>
<circle cx="162.6" cy="145.2" r="1.3"/>
<circle cx="223.8" cy="172.9" r="1.3"/>
<circle cx="195.0" cy="187.1" r="1.3"/>
<circle cx="199.1" cy="181.7" r="1.3"/>
<circle cx="213.1" cy="167.4" r="1.3"/>
<circle cx="170.7" cy="144.3" r="1.3"/>
<circle cx="183.8" cy="135.2" r="1.3"/>
<circle cx="209.9" cy="151.9" r="1.3"/>
<circle cx="206.0" cy="184.3" r="1.3"/>
<circle cx="181.3" cy="186.3" r="1.3"/>
<circle cx="170.6" cy="179.9" r="1.3"/>
<circle cx="215.3" cy="133.6" r="1.3"/>
<circle cx="198.4" cy="132.9" r="1.3"/>
<circle cx="201.3" cy="217.4" r="1.3"/>
<circle cx="211.8" cy="201.5" r="1.3"/>
<circle cx="231.1" cy="137.3" r="1.3"/>
<circle cx="196.8" cy="143.3" r="1.3"/>
<circle cx="232.8" cy="139.6" r="1.3"/>
<circle cx="233.0" cy="131.2" r="1.3"/>
<circle cx="182.3" cy="164.8" r="1.3"/>
<circle cx="180.0" cy="157.1" r="1.3"/>
<circle cx="226.5" cy="170.6" r="1.3"/>
<circle cx="175.8" cy="204.8" r="1.3"/>
<circle cx="192.1" cy="206.7" r="1.3"/>
<circle cx="171.5" cy="164.9" r="1.3"/>
<circle cx="227.8" cy="129.7" r="1.3"/>
<circle cx="216.8" cy="135.7" r="1.3"/>
<circle cx="211.6" cy="210.9" r="1.3"/>
<circle cx="223.5" cy="152.2" r="1.3"/>
<circle cx="178.2" cy="172.8" r="1.3"/>
<circle cx="177.4" cy="184.3" r="1.3"/>
<circle cx="187.3" cy="198.5" r="1.3"/>
<circle cx="195.8" cy="140.4" r="1.3"/>
<circle cx="192.2" cy="141.1" r="1.3"/>
<circle cx="207.2" cy="218.4" r="1.3"/>
<circle cx="223.9" cy="167.0" r="1.3"/>
<circle cx="204.7" cy="141.9" r="1.3"/>
<circle cx="239.4" cy="167.1" r="1.3"/>
<circle cx="167.1" cy="160.2" r="1.3"/>
<circle cx="215.4" cy="129.7" r="1.3"/>
<circle cx="176.0" cy="163.6" r="1.3"/>
<circle cx="204.0" cy="186.7" r="1.3"/>
<circle cx="196.5" cy="162.8" r="1.3"/>
<circle cx="164.3" cy="140.6" r="1.3"/>
<circle cx="223.1" cy="154.2" r="1.3"/>
<circle cx="185.7" cy="178.5" r="1.3"/>
<circle cx="184.6" cy="185.9" r="1.3"/>
<circle cx="212.7" cy="207.5" r="1.3"/>
<circle cx="219.5" cy="192.9" r="1.3"/>
<circle cx="194.1" cy="155.1" r="1.3"/>
<circle cx="188.6" cy="206.7" r="1.3"/>
<circle cx="229.5" cy="179.5" r="1.3"/>
<circle cx="219.7" cy="162.5" r="1.3"/>
<circle cx="211.8" cy="168.4" r="1.3"/>
<circle cx="165.7" cy="161.1" r="1.3"/>
<circle cx="205.3" cy="164.3" r="1.3"/>
<circle cx="182.9" cy="150.1" r="1.3"/>
<circle cx="192.8" cy="139.5" r="1.3"/>
<circle cx="202.6" cy="172.7" r="1.3"/>
<circle cx="213.5" cy="157.4" r="1.3"/>
<circle cx="188.3" cy="158.0" r="1.3"/>
<circle cx="228.3" cy="184.0" r="1.3"/>
<circle cx="167.5" cy="144.1" r="1.3"/>
<circle cx="193.6" cy="207.9" r="1.3"/>
<circle cx="200.3" cy="217.9" r="1.3"/>
<circle cx="244.5" cy="154.5" r="1.3"/>
<circle cx="175.5" cy="153.7" r="1.3"/>
<circle cx="226.2" cy="148.4" r="1.3"/>
<circle cx="197.6" cy="146.4" r="1.3"/>
<circle cx="220.9" cy="146.0" r="1.3"/>
<circle cx="216.5" cy="133.5" r="1.3"/>
<circle cx="192.1" cy="139.6" r="1.3"/>
<circle cx="177.7" cy="182.5" r="1.3"/>
<circle cx="246.8" cy="147.7" r="1.3"/>
<circle cx="190.7" cy="205.2" r="1.3"/>
<circle cx="221.0" cy="168.4" r="1.3"/>
<circle cx="223.8" cy="161.1" r="1.3"/>
<circle cx="165.4" cy="169.3" r="1.3"/>
<circle cx="191.4" cy="177.9" r="1.3"/>
<circle cx="216.2" cy="152.5" r="1.3"/>
<circle cx="203.6" cy="126.5" r="1.3"/>
<circle cx="217.7" cy="202.5" r="1.3"/>
<circle cx="190.9" cy="135.0" r="1.3"/>
<circle cx="174.7" cy="140.3" r="1.3"/>
<circle cx="232.1" cy="134.6" r="1.3"/>
<circle cx="236.5" cy="170.3" r="1.3"/>
<circle cx="210.6" cy="188.0" r="1.3"/>
<circle cx="212.2" cy="195.3" r="1.3"/>
<circle cx="216.5" cy="160.4" r="1.3"/>
<circle cx="229.7" cy="152.6" r="1.3"/>
<circle cx="232.9" cy="158.1" r="1.3"/>
<circle cx="202.6" cy="154.8" r="1.3"/>
<circle cx="204.7" cy="195.1" r="1.3"/>
<circle cx="232.8" cy="163.8" r="1.3"/>
<circle cx="231.1" cy="134.6" r="1.3"/>
<circle cx="162.6" cy="139.4" r="1.3"/>
<circle cx="212.2" cy="144.5" r="1.3"/>
<circle cx="174.0" cy="144.0" r="1.3"/>
<circle cx="233.1" cy="151.0" r="1.3"/>
<circle cx="219.8" cy="161.8" r="1.3"/>
<circle cx="235.3" cy="174.2" r="1.3"/>
<circle cx="190.4" cy="221.7" r="1.3"/>
<circle cx="197.8" cy="217.5" r="1.3"/>
<circle cx="198.5" cy="223.3" r="1.3"/>
<circle cx="181.1" cy="152.0" r="1.3"/>
<circle cx="184.7" cy="171.4" r="1.3"/>
<circle cx="181.7" cy="146.7" r="1.3"/>
<circle cx="231.4" cy="193.8" r="1.3"/>
<circle cx="180.4" cy="185.9" r="1.3"/>
<circle cx="241.7" cy="153.6" r="1.3"/>
<circle cx="186.6" cy="160.5" r="1.3"/>
<circle cx="205.6" cy="220.3" r="1.3"/>
<circle cx="175.2" cy="198.1" r="1.3"/>
<circle cx="216.2" cy="173.5" r="1.3"/>
<circle cx="193.9" cy="208.4" r="1.3"/>
<circle cx="241.2" cy="144.5" r="1.3"/>
<circle cx="169.2" cy="143.1" r="1.3"/>
<circle cx="224.2" cy="134.7" r="1.3"/>
<circle cx="191.9" cy="223.3" r="1.3"/>
<circle cx="182.1" cy="209.8" r="1.3"/>
<circle cx="224.8" cy="129.1" r="1.3"/>
<circle cx="207.4" cy="149.8" r="1.3"/>
<circle cx="200.5" cy="136.2" r="1.3"/>
<circle cx="189.8" cy="219.0" r="1.3"/>
<circle cx="171.3" cy="177.1" r="1.3"/>
<circle cx="172.8" cy="170.8" r="1.3"/>
<circle cx="176.8" cy="198.3" r="1.3"/>
<circle cx="207.1" cy="137.0" r="1.3"/>
<circle cx="193.2" cy="178.1" r="1.3"/>
<circle cx="246.4" cy="162.4" r="1.3"/>
<circle cx="185.7" cy="144.0" r="1.3"/>
<circle cx="184.9" cy="132.4" r="1.3"/>
<circle cx="198.4" cy="184.6" r="1.3"/>
<circle cx="224.7" cy="194.9" r="1.3"/>
<circle cx="211.1" cy="183.7" r="1.3"/>
<circle cx="197.5" cy="159.1" r="1.3"/>
<circle cx="199.4" cy="229.1" r="1.3"/>
<circle cx="196.4" cy="166.2" r="1.3"/>
<circle cx="198.5" cy="140.3" r="1.3"/>
<circle cx="183.9" cy="190.4" r="1.3"/>
<circle cx="195.4" cy="150.8" r="1.3"/>
<circle cx="178.7" cy="137.4" r="1.3"/>
<circle cx="225.3" cy="159.7" r="1.3"/>
<circle cx="220.7" cy="183.7" r="1.3"/>
<circle cx="240.2" cy="179.6" r="1.3"/>
<circle cx="182.0" cy="192.4" r="1.3"/>
<circle cx="229.9" cy="165.5" r="1.3"/>
<circle cx="226.9" cy="167.1" r="1.3"/>
<circle cx="209.5" cy="190.6" r="1.3"/>
<circle cx="223.7" cy="159.5" r="1.3"/>
<circle cx="219.1" cy="183.1" r="1.3"/>
<circle cx="181.0" cy="190.5" r="1.3"/>
<circle cx="184.9" cy="222.2" r="1.3"/>
<circle cx="204.5" cy="202.2" r="1.3"/>
<circle cx="209.1" cy="176.0" r="1.3"/>
<circle cx="180.8" cy="140.2" r="1.3"/>
<circle cx="209.2" cy="181.4" r="1.3"/>
<circle cx="236.5" cy="150.5" r="1.3"/>
<circle cx="203.3" cy="193.5" r="1.3"/>
<circle cx="195.8" cy="214.0" r="1.3"/>
<circle cx="236.9" cy="138.2" r="1.3"/>
<circle cx="174.5" cy="151.9" r="1.3"/>
<circle cx="169.7" cy="163.2" r="1.3"/>
<circle cx="235.5" cy="180.8" r="1.3"/>
<circle cx="202.6" cy="134.4" r="1.3"/>
<circle cx="225.3" cy="173.1" r="1.3"/>
<circle cx="205.0" cy="210.4" r="1.3"/>
<circle cx="231.3" cy="141.0" r="1.3"/>
<circle cx="223.9" cy="164.3" r="1.3"/>
<circle cx="208.9" cy="150.4" r="1.3"/>
<circle cx="194.9" cy="161.4" r="1.3"/>
<circle cx="195.8" cy="126.9" r="1.3"/>
<circle cx="178.9" cy="186.0" r="1.3"/>
<circle cx="165.4" cy="144.1" r="1.3"/>
<circle cx="227.5" cy="154.4" r="1.3"/>
<circle cx="190.5" cy="150.9" r="1.3"/>
<circle cx="238.4" cy="134.8" r="1.3"/>
<circle cx="179.0" cy="170.3" r="1.3"/>
<circle cx="234.5" cy="191.1" r="1.3"/>
<circle cx="194.9" cy="129.7" r="1.3"/>
<circle cx="201.6" cy="164.3" r="1.3"/>
<circle cx="227.0" cy="156.6" r="1.3"/>
<circle cx="198.3" cy="194.4" r="1.3"/>
<circle cx="236.2" cy="162.7" r="1.3"/>
<circle cx="196.2" cy="186.9" r="1.3"/>
<circle cx="246.9" cy="145.5" r="1.3"/>
<circle cx="195.0" cy="196.2" r="1.3"/>
<circle cx="191.0" cy="132.6" r="1.3"/>
<circle cx="231.1" cy="165.6" r="1.3"/>
<circle cx="209.4" cy="178.1" r="1.3"/>
<circle cx="203.5" cy="174.5" r="1.3"/>
<circle cx="238.9" cy="169.4" r="1.3"/>
<circle cx="204.5" cy="220.3" r="1.3"/>
<circle cx="201.3" cy="177.6" r="1.3"/>
<circle cx="208.1" cy="213.2" r="1.3"/>
<circle cx="223.0" cy="204.2" r="1.3"/>
<circle cx="197.8" cy="129.3" r="1.3"/>
<circle cx="223.9" cy="184.3" r="1.3"/>
<circle cx="171.1" cy="148.6" r="1.3"/>
<circle cx="230.8" cy="185.4" r="1.3"/>
<circle cx="226.8" cy="176.7" r="1.3"/>
<circle cx="199.3" cy="187.5" r="1.3"/>
<circle cx="242.0" cy="140.6" r="1.3"/>
<circle cx="191.4" cy="180.4" r="1.3"/>
<circle cx="185.8" cy="153.1" r="1.3"/>
<circle cx="189.4" cy="152.3" r="1.3"/>
<circle cx="208.0" cy="170.0" r="1.3"/>
<circle cx="164.8" cy="157.6" r="1.3"/>
<circle cx="240.5" cy="152.5" r="1.3"/>
<circle cx="210.5" cy="165.0" r="1.3"/>
<circle cx="203.6" cy="177.3" r="1.3"/>
<circle cx="214.9" cy="164.1" r="1.3"/>
<circle cx="235.3" cy="146.4" r="1.3"/>
<circle cx="164.8" cy="158.6" r="1.3"/>
<circle cx="210.1" cy="168.8" r="1.3"/>
<circle cx="213.1" cy="159.6" r="1.3"/>
<circle cx="185.7" cy="210.2" r="1.3"/>
<circle cx="187.4" cy="201.0" r="1.3"/>
<circle cx="235.4" cy="188.4" r="1.3"/>
<circle cx="202.7" cy="225.0" r="1.3"/>
<circle cx="201.8" cy="219.0" r="1.3"/>
<circle cx="165.4" cy="171.4" r="1.3"/>
<circle cx="220.1" cy="130.2" r="1.3"/>
<circle cx="241.1" cy="132.7" r="1.3"/>
<circle cx="216.1" cy="144.3" r="1.3"/>
<circle cx="235.3" cy="178.3" r="1.3"/>
<circle cx="223.3" cy="197.2" r="1.3"/>
<circle cx="187.7" cy="147.6" r="1.3"/>
<circle cx="238.8" cy="140.6" r="1.3"/>
<circle cx="246.3" cy="147.1" r="1.3"/>
<circle cx="199.0" cy="195.5" r="1.3"/>
<circle cx="224.5" cy="141.6" r="1.3"/>
<circle cx="187.6" cy="149.9" r="1.3"/>
<circle cx="214.7" cy="159.1" r="1.3"/>
<circle cx="212.7" cy="141.5" r="1.3"/>
<circle cx="245.7" cy="159.7" r="1.3"/>
<circle cx="239.1" cy="141.3" r="1.3"/>
<circle cx="196.8" cy="128.5" r="1.3"/>
<circle cx="195.7" cy="193.6" r="1.3"/>
<circle cx="181.0" cy="183.4" r="1.3"/>
<circle cx="168.8" cy="174.7" r="1.3"/>
<circle cx="228.5" cy="171.0" r="1.3"/>
<circle cx="223.8" cy="137.2" r="1.3"/>
<circle cx="237.9" cy="138.1" r="1.3"/>
<circle cx="187.3" cy="162.2" r="1.3"/>
<circle cx="230.5" cy="178.1" r="1.3"/>
<circle cx="247.4" cy="135.0" r="1.3"/>
<circle cx="205.6" cy="217.4" r="1.3"/>
<circle cx="216.2" cy="182.9" r="1.3"/>
<circle cx="168.3" cy="139.9" r="1.3"/>
<circle cx="185.5" cy="220.6" r="1.3"/>
<circle cx="239.5" cy="149.3" r="1.3"/>
<circle cx="192.4" cy="226.1" r="1.3"/>
<circle cx="221.7" cy="130.4" r="1.3"/>
<circle cx="191.3" cy="173.1" r="1.3"/>
<circle cx="183.3" cy="204.4" r="1.3"/>
<circle cx="188.0" cy="132.4" r="1.3"/>
<circle cx="212.6" cy="135.2" r="1.3"/>
<circle cx="211.8" cy="209.3" r="1.3"/>
<circle cx="216.0" cy="174.4" r="1.3"/>
<circle cx="172.4" cy="186.8" r="1.3"/>
<circle cx="193.2" cy="165.1" r="1.3"/>
<circle cx="222.3" cy="142.5" r="1.3"/>
<circle cx="191.2" cy="215.1" r="1.3"/>
<circle cx="242.1" cy="176.4" r="1.3"/>
<circle cx="174.0" cy="135.1" r="1.3"/>
<circle cx="242.6" cy="137.5" r="1.3"/>
<circle cx="206.6" cy="182.4" r="1.3"/>
<circle cx="171.1" cy="175.1" r="1.3"/>
<circle cx="175.4" cy="182.3" r="1.3"/>
<circle cx="207.6" cy="164.3" r="1.3"/>
<circle cx="178.6" cy="168.2" r="1.3"/>
<circle cx="179.1" cy="138.6" r="1.3"/>
<circle cx="182.5" cy="218.3" r="1.3"/>
<circle cx="207.2" cy="220.3" r="1.3"/>
<circle cx="205.9" cy="209.6" r="1.3"/>
<circle cx="213.6" cy="198.7" r="1.3"/>
<circle cx="181.6" cy="205.3" r="1.3"/>
<circle cx="174.4" cy="153.3" r="1.3"/>
<circle cx="208.7" cy="156.2" r="1.3"/>
<circle cx="243.7" cy="134.0" r="1.3"/>
<circle cx="214.4" cy="150.0" r="1.3"/>
<circle cx="216.0" cy="208.9" r="1.3"/>
<circle cx="226.8" cy="131.6" r="1.3"/>
<circle cx="183.1" cy="189.1" r="1.3"/>
<circle cx="218.1" cy="199.0" r="1.3"/>
<circle cx="236.6" cy="161.6" r="1.3"/>
<circle cx="236.2" cy="174.4" r="1.3"/>
<circle cx="198.3" cy="134.4" r="1.3"/>
<circle cx="183.0" cy="203.5" r="1.3"/>
<circle cx="223.8" cy="141.2" r="1.3"/>
<circle cx="192.4" cy="140.0" r="1.3"/>
<circle cx="178.6" cy="148.5" r="1.3"/>
<circle cx="205.1" cy="178.2" r="1.3"/>
<circle cx="230.6" cy="193.1" r="1.3"/>
<circle cx="178.7" cy="191.9" r="1.3"/>
<circle cx="192.8" cy="142.4" r="1.3"/>
<circle cx="230.1" cy="139.4" r="1.3"/>
<circle cx="215.5" cy="171.6" r="1.3"/>
<circle cx="241.9" cy="157.0" r="1.3"/>
<circle cx="248.9" cy="137.4" r="1.3"/>
<circle cx="183.7" cy="214.7" r="1.3"/>
<circle cx="181.8" cy="146.2" r="1.3"/>
<circle cx="203.0" cy="150.3" r="1.3"/>
<circle cx="206.3" cy="222.2" r="1.3"/>
<circle cx="224.4" cy="201.0" r="1.3"/>
<circle cx="196.8" cy="208.9" r="1.3"/>
<circle cx="198.2" cy="134.3" r="1.3"/>
<circle cx="191.9" cy="188.7" r="1.3"/>
<circle cx="236.4" cy="169.8" r="1.3"/>
<circle cx="216.8" cy="174.0" r="1.3"/>
<circle cx="191.5" cy="147.9" r="1.3"/>
<circle cx="193.2" cy="215.4" r="1.3"/>
<circle cx="218.2" cy="156.3" r="1.3"/>
<circle cx="168.3" cy="154.0" r="1.3"/>
<circle cx="225.9" cy="172.3" r="1.3"/>
<circle cx="222.1" cy="211.4" r="1.3"/>
<circle cx="177.3" cy="154.0" r="1.3"/>
<circle cx="197.1" cy="178.5" r="1.3"/>
<circle cx="238.1" cy="142.4" r="1.3"/>
<circle cx="202.7" cy="211.6" r="1.3"/>
<circle cx="183.6" cy="162.7" r="1.3"/>
<circle cx="169.5" cy="184.1" r="1.3"/>
<circle cx="241.1" cy="180.0" r="1.3"/>
<circle cx="195.4" cy="224.4" r="1.3"/>
<circle cx="201.7" cy="227.5" r="1.3"/>
<circle cx="194.0" cy="195.7" r="1.3"/>
<circle cx="219.4" cy="165.2" r="1.3"/>
<circle cx="209.1" cy="197.4" r="1.3"/>
<circle cx="194.2" cy="229.5" r="1.3"/>
<circle cx="224.3" cy="184.6" r="1.3"/>
<circle cx="202.1" cy="205.4" r="1.3"/>
<circle cx="190.6" cy="139.7" r="1.3"/>
<circle cx="173.6" cy="187.9" r="1.3"/>
<circle cx="214.2" cy="130.0" r="1.3"/>
<circle cx="196.9" cy="205.0" r="1.3"/>
<circle cx="220.3" cy="155.1" r="1.3"/>
<circle cx="231.7" cy="156.2" r="1.3"/>
<circle cx="211.2" cy="170.0" r="1.3"/>
<circle cx="195.8" cy="228.0" r="1.3"/>
<circle cx="226.7" cy="198.9" r="1.3"/>
<circle cx="186.1" cy="142.3" r="1.3"/>
<circle cx="214.1" cy="213.4" r="1.3"/>
<circle cx="234.6" cy="162.2" r="1.3"/>
<circle cx="173.1" cy="180.2" r="1.3"/>
<circle cx="242.5" cy="142.4" r="1.3"/>
<circle cx="229.4" cy="143.3" r="1.3"/>
<circle cx="189.3" cy="130.7" r="1.3"/>
<circle cx="188.0" cy="166.0" r="1.3"/>
<circle cx="177.6" cy="158.1" r="1.3"/>
<circle cx="248.7" cy="146.1" r="1.3"/>
<circle cx="190.2" cy="171.9" r="1.3"/>
<circle cx="170.2" cy="152.8" r="1.3"/>
<circle cx="197.0" cy="166.3" r="1.3"/>
<circle cx="202.3" cy="214.6" r="1.3"/>
<circle cx="219.9" cy="208.3" r="1.3"/>
<circle cx="189.6" cy="141.3" r="1.3"/>
<circle cx="231.2" cy="175.3" r="1.3"/>
<circle cx="212.5" cy="196.8" r="1.3"/>
<circle cx="230.7" cy="154.5" r="1.3"/>
<circle cx="194.1" cy="223.2" r="1.3"/>
<circle cx="209.8" cy="155.9" r="1.3"/>
<circle cx="219.2" cy="152.8" r="1.3"/>
<circle cx="237.7" cy="185.6" r="1.3"/>
<circle cx="193.2" cy="225.6" r="1.3"/>
<circle cx="185.0" cy="151.0" r="1.3"/>
<circle cx="230.9" cy="197.6" r="1.3"/>
<circle cx="198.8" cy="211.4" r="1.3"/>
<circle cx="170.5" cy="157.8" r="1.3"/>
<circle cx="219.6" cy="199.0" r="1.3"/>
<circle cx="232.8" cy="167.2" r="1.3"/>
<circle cx="192.1" cy="167.0" r="1.3"/>
<circle cx="235.7" cy="162.4" r="1.3"/>
<circle cx="210.0" cy="180.8" r="1.3"/>
<circle cx="172.6" cy="161.2" r="1.3"/>
<circle cx="166.2" cy="169.2" r="1.3"/>
<circle cx="207.2" cy="216.2" r="1.3"/>
<circle cx="222.8" cy="186.8" r="1.3"/>
<circle cx="197.9" cy="186.4" r="1.3"/>
<circle cx="185.7" cy="215.4" r="1.3"/>
<circle cx="174.2" cy="196.9" r="1.3"/>
<circle cx="230.9" cy="178.6" r="1.3"/>
<circle cx="226.2" cy="190.5" r="1.3"/>
<circle cx="185.9" cy="132.2" r="1.3"/>
<circle cx="216.7" cy="213.2" r="1.3"/>
<circle cx="185.7" cy="147.8" r="1.3"/>
<circle cx="181.0" cy="135.0" r="1.3"/>
<circle cx="235.4" cy="163.5" r="1.3"/>
<circle cx="225.7" cy="132.7" r="1.3"/>
<circle cx="238.8" cy="159.8" r="1.3"/>
<circle cx="173.0" cy="154.4" r="1.3"/>
<circle cx="212.2" cy="211.4" r="1.3"/>
<circle cx="170.4" cy="149.0" r="1.3"/>
<circle cx="219.2" cy="161.4" r="1.3"/>
<circle cx="191.1" cy="185.8" r="1.3"/>
<circle cx="180.5" cy="209.9" r="1.3"/>
<circle cx="236.0" cy="182.5" r="1.3"/>
<circle cx="199.8" cy="131.7" r="1.3"/>
<circle cx="219.2" cy="202.5" r="1.3"/>
<circle cx="215.0" cy="167.8" r="1.3"/>
<circle cx="208.1" cy="188.0" r="1.3"/>
<circle cx="204.9" cy="139.3" r="1.3"/>
<circle cx="202.7" cy="198.0" r="1.3"/>
<circle cx="226.6" cy="173.6" r="1.3"/>
<circle cx="192.1" cy="145.3" r="1.3"/>
<circle cx="197.9" cy="155.2" r="1.3"/>
<circle cx="178.3" cy="203.8" r="1.3"/>
<circle cx="208.5" cy="171.9" r="1.3"/>
<circle cx="178.6" cy="200.3" r="1.3"/>
<circle cx="178.5" cy="153.4" r="1.3"/>
<circle cx="212.7" cy="200.0" r="1.3"/>
<circle cx="227.9" cy="202.0" r="1.3"/>
<circle cx="165.9" cy="147.0" r="1.3"/>
<circle cx="227.9" cy="192.4" r="1.3"/>
<circle cx="184.8" cy="163.0" r="1.3"/>
<circle cx="175.4" cy="192.6" r="1.3"/>
<circle cx="164.2" cy="143.7" r="1.3"/>
<circle cx="193.4" cy="221.2" r="1.3"/>
<circle cx="235.6" cy="173.7" r="1.3"/>
<circle cx="169.6" cy="136.4" r="1.3"/>
<circle cx="204.8" cy="212.9" r="1.3"/>
<circle cx="172.1" cy="136.6" r="1.3"/>
<circle cx="213.0" cy="179.3" r="1.3"/>
<circle cx="179.7" cy="152.0" r="1.3"/>
<circle cx="228.8" cy="166.1" r="1.3"/>
<circle cx="180.1" cy="187.6" r="1.3"/>
<circle cx="203.6" cy="129.6" r="1.3"/>
<circle cx="166.7" cy="159.6" r="1.3"/>
<circle cx="182.5" cy="229.4" r="1.3"/>
<circle cx="224.1" cy="186.6" r="1.3"/>
<circle cx="214.8" cy="154.4" r="1.3"/>
<circle cx="242.5" cy="161.8" r="1.3"/>
<circle cx="225.2" cy="176.0" r="1.3"/>
<circle cx="189.0" cy="227.5" r="1.3"/>
<circle cx="203.5" cy="197.0" r="1.3"/>
<circle cx="201.5" cy="183.0" r="1.3"/>
<circle cx="191.6" cy="217.0" r="1.3"/>
<circle cx="234.1" cy="197.9" r="1.3"/>
<circle cx="182.4" cy="185.7" r="1.3"/>
<circle cx="263.6" cy="162.0" r="1.3"/>
<circle cx="198.7" cy="191.5" r="1.3"/>
<circle cx="261.4" cy="210.6" r="1.3"/>
<circle cx="227.2" cy="191.8" r="1.3"/>
<circle cx="186.3" cy="152.0" r="1.3"/>
<circle cx="218.2" cy="173.1" r="1.3"/>
<circle cx="238.4" cy="128.3" r="1.3"/>
<circle cx="215.3" cy="176.5" r="1.3"/>
<circle cx="238.1" cy="192.4" r="1.3"/>
<circle cx="223.2" cy="139.4" r="1.3"/>
<circle cx="215.0" cy="160.3" r="1.3"/>
<circle cx="212.8" cy="183.4" r="1.3"/>
<circle cx="200.6" cy="179.3" r="1.3"/>
<circle cx="234.0" cy="135.3" r="1.3"/>
<circle cx="249.8" cy="182.1" r="1.3"/>
<circle cx="237.4" cy="177.3" r="1.3"/>
<circle cx="253.3" cy="155.0" r="1.3"/>
<circle cx="217.7" cy="117.8" r="1.3"/>
<circle cx="246.7" cy="126.4" r="1.3"/>
<circle cx="180.4" cy="226.8" r="1.3"/>
<circle cx="216.4" cy="177.8" r="1.3"/>
<circle cx="188.5" cy="206.5" r="1.3"/>
<circle cx="207.3" cy="188.8" r="1.3"/>
<circle cx="204.2" cy="182.8" r="1.3"/>
<circle cx="198.3" cy="141.1" r="1.3"/>
<circle cx="200.6" cy="201.3" r="1.3"/>
<circle cx="190.9" cy="191.1" r="1.3"/>
<circle cx="202.9" cy="200.4" r="1.3"/>
<circle cx="229.3" cy="145.4" r="1.3"/>
<circle cx="208.7" cy="196.9" r="1.3"/>
<circle cx="206.9" cy="172.8" r="1.3"/>
<circle cx="207.3" cy="209.1" r="1.3"/>
<circle cx="199.4" cy="177.5" r="1.3"/>
<circle cx="206.3" cy="183.3" r="1.3"/>
<circle cx="220.3" cy="174.2" r="1.3"/>
<circle cx="177.4" cy="185.7" r="1.3"/>
<circle cx="184.2" cy="216.5" r="1.3"/>
<circle cx="198.2" cy="227.9" r="1.3"/>
<circle cx="174.4" cy="171.5" r="1.3"/>
<circle cx="223.3" cy="125.1" r="1.3"/>
<circle cx="202.9" cy="183.9" r="1.3"/>
<circle cx="186.0" cy="250.6" r="1.3"/>
<circle cx="188.7" cy="235.2" r="1.3"/>
<circle cx="221.9" cy="194.6" r="1.3"/>
<circle cx="210.0" cy="208.4" r="1.3"/>
<circle cx="235.7" cy="164.6" r="1.3"/>
<circle cx="233.4" cy="139.4" r="1.3"/>
<circle cx="226.5" cy="130.8" r="1.3"/>
<circle cx="194.6" cy="104.8" r="1.3"/>
<circle cx="194.8" cy="175.9" r="1.3"/>
<circle cx="225.3" cy="196.2" r="1.3"/>
<circle cx="223.7" cy="164.4" r="1.3"/>
<circle cx="216.6" cy="117.5" r="1.3"/>
<circle cx="179.6" cy="152.5" r="1.3"/>
<circle cx="194.8" cy="161.8" r="1.3"/>
<circle cx="256.2" cy="152.9" r="1.3"/>
<circle cx="219.0" cy="215.6" r="1.3"/>
<circle cx="207.1" cy="220.2" r="1.3"/>
<circle cx="217.2" cy="166.1" r="1.3"/>
<circle cx="175.4" cy="224.9" r="1.3"/>
<circle cx="225.6" cy="171.4" r="1.3"/>
<circle cx="224.3" cy="162.4" r="1.3"/>
<circle cx="233.5" cy="181.0" r="1.3"/>
<circle cx="172.7" cy="187.5" r="1.3"/>
<circle cx="179.1" cy="168.0" r="1.3"/>
<circle cx="221.1" cy="193.2" r="1.3"/>
<circle cx="242.1" cy="142.3" r="1.3"/>
<circle cx="224.4" cy="187.2" r="1.3"/>
<circle cx="230.1" cy="139.3" r="1.3"/>
<circle cx="211.4" cy="192.4" r="1.3"/>
<circle cx="212.2" cy="181.0" r="1.3"/>
<circle cx="208.1" cy="200.4" r="1.3"/>
<circle cx="238.1" cy="166.5" r="1.3"/>
<circle cx="232.5" cy="136.6" r="1.3"/>
<circle cx="218.9" cy="183.4" r="1.3"/>
<circle cx="217.7" cy="205.7" r="1.3"/>
<circle cx="183.2" cy="186.2" r="1.3"/>
<circle cx="199.4" cy="182.0" r="1.3"/>
<circle cx="218.0" cy="155.7" r="1.3"/>
<circle cx="206.8" cy="178.9" r="1.3"/>
<circle cx="204.1" cy="167.9" r="1.3"/>
<circle cx="205.8" cy="136.1" r="1.3"/>
<circle cx="188.6" cy="188.9" r="1.3"/>
<circle cx="221.4" cy="165.9" r="1.3"/>
<circle cx="212.0" cy="166.8" r="1.3"/>
<circle cx="175.1" cy="194.5" r="1.3"/>
<circle cx="192.5" cy="189.3" r="1.3"/>
<circle cx="219.4" cy="180.4" r="1.3"/>
<circle cx="225.4" cy="154.3" r="1.3"/>
<circle cx="175.5" cy="196.0" r="1.3"/>
<circle cx="215.3" cy="187.1" r="1.3"/>
<circle cx="249.2" cy="128.2" r="1.3"/>
<circle cx="273.9" cy="152.3" r="1.3"/>
<circle cx="207.7" cy="229.8" r="1.3"/>
<circle cx="252.9" cy="165.3" r="1.3"/>
<circle cx="223.8" cy="195.7" r="1.3"/>
<circle cx="197.4" cy="198.8" r="1.3"/>
<circle cx="219.8" cy="201.9" r="1.3"/>
<circle cx="197.4" cy="175.3" r="1.3"/>
<circle cx="223.8" cy="184.9" r="1.3"/>
<circle cx="204.7" cy="213.4" r="1.3"/>
<circle cx="179.3" cy="197.0" r="1.3"/>
<circle cx="208.4" cy="175.8" r="1.3"/>
<circle cx="212.5" cy="186.9" r="1.3"/>
<circle cx="202.1" cy="200.9" r="1.3"/>
<circle cx="184.6" cy="235.4" r="1.3"/>
<circle cx="220.8" cy="175.5" r="1.3"/>
<circle cx="197.3" cy="204.4" r="1.3"/>
<circle cx="228.5" cy="192.7" r="1.3"/>
<circle cx="217.7" cy="179.4" r="1.3"/>
<circle cx="208.3" cy="216.2" r="1.3"/>
<circle cx="222.7" cy="144.2" r="1.3"/>
<circle cx="225.7" cy="169.1" r="1.3"/>
<circle cx="185.5" cy="172.4" r="1.3"/>
<circle cx="211.2" cy="111.6" r="1.3"/>
<circle cx="207.6" cy="171.8" r="1.3"/>
<circle cx="223.3" cy="145.8" r="1.3"/>
<circle cx="219.0" cy="190.5" r="1.3"/>
<circle cx="208.2" cy="165.6" r="1.3"/>
<circle cx="227.9" cy="168.7" r="1.3"/>
<circle cx="218.8" cy="149.6" r="1.3"/>
<circle cx="200.5" cy="182.1" r="1.3"/>
<circle cx="195.9" cy="213.0" r="1.3"/>
<circle cx="239.8" cy="188.1" r="1.3"/>
<circle cx="208.1" cy="199.0" r="1.3"/>
<circle cx="228.5" cy="149.3" r="1.3"/>
<circle cx="211.5" cy="184.6" r="1.3"/>
<circle cx="178.0" cy="195.0" r="1.3"/>
<circle cx="232.7" cy="153.2" r="1.3"/>
<circle cx="185.8" cy="173.7" r="1.3"/>
<circle cx="229.9" cy="194.2" r="1.3"/>
<circle cx="253.6" cy="167.2" r="1.3"/>
<circle cx="229.1" cy="132.3" r="1.3"/>
<circle cx="207.2" cy="158.8" r="1.3"/>
<circle cx="212.1" cy="165.4" r="1.3"/>
<circle cx="234.2" cy="193.7" r="1.3"/>
<circle cx="210.6" cy="172.2" r="1.3"/>
<circle cx="213.5" cy="186.2" r="1.3"/>
<circle cx="201.4" cy="202.6" r="1.3"/>
<circle cx="245.7" cy="183.9" r="1.3"/>
<circle cx="198.5" cy="231.6" r="1.3"/>
<circle cx="258.8" cy="113.8" r="1.3"/>
<circle cx="229.4" cy="193.7" r="1.3"/>
<circle cx="190.0" cy="195.0" r="1.3"/>
<circle cx="204.9" cy="168.5" r="1.3"/>
<circle cx="229.6" cy="151.6" r="1.3"/>
<circle cx="214.7" cy="208.5" r="1.3"/>
<circle cx="212.7" cy="223.3" r="1.3"/>
<circle cx="229.1" cy="157.6" r="1.3"/>
<circle cx="254.1" cy="172.7" r="1.3"/>
<circle cx="234.8" cy="143.7" r="1.3"/>
<circle cx="225.4" cy="198.6" r="1.3"/>
<circle cx="226.9" cy="176.6" r="1.3"/>
<circle cx="273.5" cy="148.3" r="1.3"/>
<circle cx="221.6" cy="180.1" r="1.3"/>
<circle cx="179.3" cy="222.5" r="1.3"/>
<circle cx="209.3" cy="174.7" r="1.3"/>
<circle cx="219.3" cy="189.8" r="1.3"/>
<circle cx="180.1" cy="207.3" r="1.3"/>
<circle cx="192.5" cy="250.5" r="1.3"/>
<circle cx="219.4" cy="159.7" r="1.3"/>
<circle cx="220.6" cy="152.2" r="1.3"/>
<circle cx="261.1" cy="129.2" r="1.3"/>
<circle cx="212.8" cy="181.7" r="1.3"/>
<circle cx="217.4" cy="199.9" r="1.3"/>
<circle cx="239.8" cy="120.7" r="1.3"/>
<circle cx="196.8" cy="223.9" r="1.3"/>
<circle cx="203.9" cy="137.1" r="1.3"/>
<circle cx="178.1" cy="194.9" r="1.3"/>
<circle cx="227.3" cy="173.7" r="1.3"/>
<circle cx="175.1" cy="194.8" r="1.3"/>
<circle cx="187.2" cy="142.5" r="1.3"/>
<circle cx="217.9" cy="164.1" r="1.3"/>
<circle cx="261.6" cy="138.5" r="1.3"/>
<circle cx="192.2" cy="199.3" r="1.3"/>
<circle cx="190.6" cy="185.4" r="1.3"/>
<circle cx="225.5" cy="192.9" r="1.3"/>
<circle cx="175.1" cy="227.5" r="1.3"/>
<circle cx="249.1" cy="148.5" r="1.3"/>
<circle cx="178.9" cy="200.6" r="1.3"/>
<circle cx="231.4" cy="151.5" r="1.3"/>
<circle cx="192.1" cy="190.9" r="1.3"/>
<circle cx="233.7" cy="128.9" r="1.3"/>
<circle cx="227.9" cy="193.1" r="1.3"/>
<circle cx="217.9" cy="163.2" r="1.3"/>
<circle cx="212.4" cy="162.6" r="1.3"/>
<circle cx="190.5" cy="177.4" r="1.3"/>
<circle cx="226.2" cy="175.6" r="1.3"/>
<circle cx="224.2" cy="188.2" r="1.3"/>
<circle cx="220.4" cy="170.4" r="1.3"/>
<circle cx="200.7" cy="217.6" r="1.3"/>
<circle cx="241.3" cy="156.5" r="1.3"/>
<circle cx="224.3" cy="142.9" r="1.3"/>
<circle cx="209.8" cy="227.4" r="1.3"/>
<circle cx="200.8" cy="204.9" r="1.3"/>
<circle cx="204.7" cy="190.9" r="1.3"/>
<circle cx="193.9" cy="187.3" r="1.3"/>
<circle cx="180.2" cy="158.4" r="1.3"/>
<circle cx="172.0" cy="199.8" r="1.3"/>
<circle cx="246.0" cy="185.5" r="1.3"/>
<circle cx="215.5" cy="200.2" r="1.3"/>
<circle cx="199.1" cy="153.9" r="1.3"/>
<circle cx="203.7" cy="130.9" r="1.3"/>
<circle cx="191.0" cy="198.2" r="1.3"/>
<circle cx="234.1" cy="149.1" r="1.3"/>
<circle cx="192.4" cy="180.1" r="1.3"/>
<circle cx="210.4" cy="182.8" r="1.3"/>
<circle cx="245.0" cy="178.3" r="1.3"/>
<circle cx="222.5" cy="163.4" r="1.3"/>
<circle cx="231.4" cy="206.6" r="1.3"/>
<circle cx="211.6" cy="178.9" r="1.3"/>
<circle cx="268.3" cy="148.6" r="1.3"/>
<circle cx="217.1" cy="167.0" r="1.3"/>
<circle cx="213.3" cy="215.1" r="1.3"/>
<circle cx="215.1" cy="208.6" r="1.3"/>
<circle cx="194.7" cy="209.3" r="1.3"/>
<circle cx="218.1" cy="174.6" r="1.3"/>
<circle cx="218.7" cy="182.2" r="1.3"/>
<circle cx="190.4" cy="178.8" r="1.3"/>
<circle cx="195.9" cy="204.8" r="1.3"/>
<circle cx="221.4" cy="144.1" r="1.3"/>
<circle cx="221.8" cy="170.4" r="1.3"/>
<circle cx="185.7" cy="185.4" r="1.3"/>
<circle cx="193.2" cy="181.8" r="1.3"/>
<circle cx="189.4" cy="150.4" r="1.3"/>
<circle cx="242.0" cy="159.8" r="1.3"/>
<circle cx="243.6" cy="183.9" r="1.3"/>
<circle cx="191.6" cy="149.0" r="1.3"/>
<circle cx="216.4" cy="188.2" r="1.3"/>
<circle cx="176.4" cy="193.1" r="1.3"/>
<circle cx="224.7" cy="177.7" r="1.3"/>
<circle cx="195.9" cy="195.0" r="1.3"/>
<circle cx="189.0" cy="193.9" r="1.3"/>
<circle cx="224.5" cy="198.1" r="1.3"/>
<circle cx="244.1" cy="140.8" r="1.3"/>
<circle cx="224.6" cy="189.3" r="1.3"/>
<circle cx="226.7" cy="186.7" r="1.3"/>
<circle cx="188.9" cy="190.0" r="1.3"/>
<circle cx="225.8" cy="179.6" r="1.3"/>
<circle cx="181.8" cy="157.2" r="1.3"/>
<circle cx="198.8" cy="168.8" r="1.3"/>
<circle cx="220.0" cy="220.2" r="1.3"/>
<circle cx="241.1" cy="151.2" r="1.3"/>
<circle cx="216.1" cy="178.7" r="1.3"/>
<circle cx="196.0" cy="201.7" r="1.3"/>
<circle cx="230.2" cy="119.5" r="1.3"/>
<circle cx="198.0" cy="206.2" r="1.3"/>
<circle cx="238.6" cy="167.6" r="1.3"/>
<circle cx="187.4" cy="212.0" r="1.3"/>
<circle cx="182.8" cy="179.7" r="1.3"/>
<circle cx="201.6" cy="177.6" r="1.3"/>
<circle cx="232.6" cy="162.6" r="1.3"/>
<circle cx="194.4" cy="208.8" r="1.3"/>
<circle cx="190.8" cy="188.7" r="1.3"/>
<circle cx="216.1" cy="210.6" r="1.3"/>
<circle cx="172.1" cy="179.0" r="1.3"/>
<circle cx="206.4" cy="216.3" r="1.3"/>
<circle cx="231.9" cy="110.6" r="1.3"/>
<circle cx="195.9" cy="192.0" r="1.3"/>
<circle cx="187.7" cy="230.6" r="1.3"/>
<circle cx="211.6" cy="189.4" r="1.3"/>
<circle cx="246.3" cy="116.4" r="1.3"/>
<circle cx="236.7" cy="170.5" r="1.3"/>
<circle cx="186.2" cy="197.4" r="1.3"/>
<circle cx="249.4" cy="146.9" r="1.3"/>
<circle cx="192.9" cy="169.2" r="1.3"/>
<circle cx="233.5" cy="164.7" r="1.3"/>
<circle cx="273.9" cy="136.1" r="1.3"/>
<circle cx="227.7" cy="164.2" r="1.3"/>
<circle cx="200.2" cy="177.3" r="1.3"/>
<circle cx="217.9" cy="178.5" r="1.3"/>
<circle cx="238.1" cy="177.4" r="1.3"/>
<circle cx="205.1" cy="170.1" r="1.3"/>
<circle cx="248.7" cy="177.7" r="1.3"/>
<circle cx="198.9" cy="213.9" r="1.3"/>
<circle cx="227.2" cy="174.6" r="1.3"/>
<circle cx="216.1" cy="169.2" r="1.3"/>
<circle cx="233.6" cy="205.8" r="1.3"/>
<circle cx="218.2" cy="119.3" r="1.3"/>
<circle cx="186.7" cy="199.3" r="1.3"/>
<circle cx="183.4" cy="235.5" r="1.3"/>
<circle cx="198.2" cy="180.9" r="1.3"/>
<circle cx="264.8" cy="184.4" r="1.3"/>
<circle cx="255.3" cy="154.1" r="1.3"/>
<circle cx="210.9" cy="204.0" r="1.3"/>
<circle cx="226.2" cy="198.4" r="1.3"/>
<circle cx="218.5" cy="167.5" r="1.3"/>
<circle cx="206.8" cy="161.2" r="1.3"/>
<circle cx="247.6" cy="177.7" r="1.3"/>
<circle cx="210.2" cy="201.5" r="1.3"/>
<circle cx="191.5" cy="243.8" r="1.3"/>
<circle cx="208.1" cy="148.4" r="1.3"/>
<circle cx="243.1" cy="135.1" r="1.3"/>
<circle cx="220.2" cy="156.5" r="1.3"/>
<circle cx="203.8" cy="136.2" r="1.3"/>
<circle cx="222.1" cy="198.2" r="1.3"/>
<circle cx="206.2" cy="212.1" r="1.3"/>
<circle cx="206.8" cy="199.2" r="1.3"/>
<circle cx="197.1" cy="229.6" r="1.3"/>
<circle cx="214.7" cy="134.6" r="1.3"/>
<circle cx="179.7" cy="122.8" r="1.3"/>
<circle cx="175.6" cy="173.9" r="1.3"/>
<circle cx="202.0" cy="168.4" r="1.3"/>
<circle cx="183.7" cy="192.6" r="1.3"/>
<circle cx="206.0" cy="171.4" r="1.3"/>
<circle cx="187.1" cy="209.1" r="1.3"/>
<circle cx="201.8" cy="164.0" r="1.3"/>
<circle cx="202.1" cy="134.8" r="1.3"/>
<circle cx="209.4" cy="168.9" r="1.3"/>
<circle cx="227.5" cy="132.0" r="1.3"/>
<circle cx="173.5" cy="190.3" r="1.3"/>
<circle cx="255.9" cy="133.3" r="1.3"/>
<circle cx="181.9" cy="213.3" r="1.3"/>
<circle cx="182.8" cy="151.2" r="1.3"/>
<circle cx="226.9" cy="188.5" r="1.3"/>
<circle cx="215.8" cy="190.0" r="1.3"/>
<circle cx="209.3" cy="190.4" r="1.3"/>
<circle cx="200.5" cy="171.3" r="1.3"/>
<circle cx="217.3" cy="176.5" r="1.3"/>
<circle cx="196.1" cy="178.9" r="1.3"/>
<circle cx="192.7" cy="217.4" r="1.3"/>
<circle cx="184.3" cy="135.2" r="1.3"/>
<circle cx="219.9" cy="215.0" r="1.3"/>
<circle cx="213.8" cy="150.6" r="1.3"/>
<circle cx="217.7" cy="134.9" r="1.3"/>
<circle cx="196.2" cy="195.5" r="1.3"/>
<circle cx="183.4" cy="218.0" r="1.3"/>
<circle cx="190.4" cy="250.1" r="1.3"/>
<circle cx="191.3" cy="189.0" r="1.3"/>
<circle cx="208.0" cy="211.5" r="1.3"/>
<circle cx="230.6" cy="135.7" r="1.3"/>
<circle cx="265.0" cy="154.7" r="1.3"/>
<circle cx="238.5" cy="148.8" r="1.3"/>
<circle cx="190.6" cy="235.9" r="1.3"/>
<circle cx="203.4" cy="199.1" r="1.3"/>
<circle cx="167.5" cy="237.3" r="1.3"/>
<circle cx="197.2" cy="168.2" r="1.3"/>
<circle cx="240.9" cy="194.1" r="1.3"/>
<circle cx="201.2" cy="171.0" r="1.3"/>
<circle cx="218.3" cy="92.1" r="1.3"/>
<circle cx="197.1" cy="216.3" r="1.3"/>
<circle cx="226.5" cy="186.2" r="1.3"/>
<circle cx="216.8" cy="223.9" r="1.3"/>
<circle cx="237.0" cy="183.0" r="1.3"/>
<circle cx="178.8" cy="229.8" r="1.3"/>
<circle cx="271.5" cy="159.4" r="1.3"/>
<circle cx="233.2" cy="146.2" r="1.3"/>
<circle cx="201.2" cy="173.0" r="1.3"/>
<circle cx="217.6" cy="145.3" r="1.3"/>
<circle cx="176.6" cy="159.5" r="1.3"/>
<circle cx="212.7" cy="185.5" r="1.3"/>
<circle cx="223.1" cy="108.2" r="1.3"/>
<circle cx="194.4" cy="198.4" r="1.3"/>
<circle cx="194.9" cy="228.2" r="1.3"/>
<circle cx="220.6" cy="195.1" r="1.3"/>
<circle cx="227.3" cy="193.6" r="1.3"/>
<circle cx="272.2" cy="151.5" r="1.3"/>
<circle cx="232.7" cy="149.6" r="1.3"/>
<circle cx="192.4" cy="228.7" r="1.3"/>
<circle cx="206.8" cy="138.5" r="1.3"/>
<circle cx="277.1" cy="112.4" r="1.3"/>
<circle cx="170.3" cy="184.9" r="1.3"/>
<circle cx="183.1" cy="253.8" r="1.3"/>
<circle cx="129.9" cy="207.8" r="1.3"/>
<circle cx="215.8" cy="171.6" r="1.3"/>
<circle cx="178.5" cy="155.3" r="1.3"/>
<circle cx="162.5" cy="200.1" r="1.3"/>
<circle cx="234.3" cy="135.8" r="1.3"/>
<circle cx="189.8" cy="232.1" r="1.3"/>
<circle cx="196.9" cy="191.7" r="1.3"/>
<circle cx="213.1" cy="153.5" r="1.3"/>
<circle cx="148.4" cy="213.9" r="1.3"/>
<circle cx="188.6" cy="247.1" r="1.3"/>
<circle cx="223.6" cy="136.6" r="1.3"/>
<circle cx="195.6" cy="176.2" r="1.3"/>
<circle cx="191.8" cy="199.2" r="1.3"/>
<circle cx="213.5" cy="201.8" r="1.3"/>
<circle cx="193.2" cy="179.2" r="1.3"/>
<circle cx="211.0" cy="205.5" r="1.3"/>
<circle cx="235.0" cy="135.7" r="1.3"/>
<circle cx="209.3" cy="177.8" r="1.3"/>
<circle cx="223.7" cy="145.4" r="1.3"/>
<circle cx="203.5" cy="154.1" r="1.3"/>
<circle cx="295.4" cy="147.4" r="1.3"/>
<circle cx="209.5" cy="186.4" r="1.3"/>
<circle cx="223.4" cy="181.8" r="1.3"/>
<circle cx="265.7" cy="133.3" r="1.3"/>
<circle cx="177.6" cy="207.3" r="1.3"/>
<circle cx="93.0" cy="291.9" r="1.3"/>
<circle cx="81.7" cy="334.3" r="1.3"/>
<circle cx="88.1" cy="315.3" r="1.3"/>
<circle cx="76.8" cy="312.2" r="1.3"/>
<circle cx="79.0" cy="328.7" r="1.3"/>
<circle cx="97.9" cy="318.8" r="1.3"/>
<circle cx="80.5" cy="327.5" r="1.3"/>
<circle cx="87.8" cy="330.8" r="1.3"/>
<circle cx="80.2" cy="343.8" r="1.3"/>
<circle cx="89.9" cy="307.7" r="1.3"/>
<circle cx="78.7" cy="305.1" r="1.3"/>
<circle cx="76.0" cy="332.4" r="1.3"/>
<circle cx="73.3" cy="324.2" r="1.3"/>
<circle cx="68.4" cy="338.0" r="1.3"/>
<circle cx="84.0" cy="305.4" r="1.3"/>
<circle cx="104.4" cy="294.6" r="1.3"/>
<circle cx="68.0" cy="332.6" r="1.3"/>
<circle cx="87.9" cy="340.8" r="1.3"/>
<circle cx="88.6" cy="313.9" r="1.3"/>
<circle cx="104.9" cy="294.9" r="1.3"/>
<circle cx="97.5" cy="295.8" r="1.3"/>
<circle cx="95.1" cy="304.4" r="1.3"/>
<circle cx="95.3" cy="326.3" r="1.3"/>
<circle cx="65.6" cy="317.7" r="1.3"/>
<circle cx="94.9" cy="302.0" r="1.3"/>
<circle cx="91.8" cy="305.6" r="1.3"/>
<circle cx="78.4" cy="341.5" r="1.3"/>
<circle cx="81.1" cy="322.0" r="1.3"/>
<circle cx="82.4" cy="338.4" r="1.3"/>
<circle cx="79.9" cy="343.2" r="1.3"/>
<circle cx="83.2" cy="296.6" r="1.3"/>
<circle cx="96.2" cy="298.1" r="1.3"/>
<circle cx="92.9" cy="293.0" r="1.3"/>
<circle cx="95.8" cy="297.3" r="1.3"/>
<circle cx="90.9" cy="311.1" r="1.3"/>
<circle cx="72.7" cy="335.6" r="1.3"/>
<circle cx="62.6" cy="316.8" r="1.3"/>
<circle cx="82.8" cy="316.3" r="1.3"/>
<circle cx="94.8" cy="330.8" r="1.3"/>
<circle cx="77.1" cy="342.2" r="1.3"/>
<circle cx="99.3" cy="296.7" r="1.3"/>
<circle cx="69.7" cy="318.0" r="1.3"/>
<circle cx="76.8" cy="299.2" r="1.3"/>
<circle cx="97.9" cy="304.0" r="1.3"/>
<circle cx="103.9" cy="302.4" r="1.3"/>
<circle cx="90.6" cy="319.8" r="1.3"/>
<circle cx="101.2" cy="314.8" r="1.3"/>
<circle cx="96.0" cy="303.0" r="1.3"/>
<circle cx="82.8" cy="336.1" r="1.3"/>
<circle cx="68.5" cy="328.3" r="1.3"/>
<circle cx="87.0" cy="312.7" r="1.3"/>
<circle cx="83.1" cy="317.6" r="1.3"/>
<circle cx="73.6" cy="310.6" r="1.3"/>
<circle cx="87.0" cy="332.7" r="1.3"/>
<circle cx="88.7" cy="299.1" r="1.3"/>
<circle cx="102.6" cy="310.6" r="1.3"/>
<circle cx="67.6" cy="322.6" r="1.3"/>
<circle cx="86.7" cy="307.6" r="1.3"/>
<circle cx="90.6" cy="321.5" r="1.3"/>
<circle cx="78.0" cy="343.2" r="1.3"/>
<circle cx="90.8" cy="320.4" r="1.3"/>
<circle cx="77.9" cy="323.9" r="1.3"/>
<circle cx="75.1" cy="344.3" r="1.3"/>
<circle cx="72.5" cy="344.5" r="1.3"/>
<circle cx="87.0" cy="301.5" r="1.3"/>
<circle cx="84.9" cy="296.6" r="1.3"/>
<circle cx="63.3" cy="313.9" r="1.3"/>
<circle cx="80.5" cy="340.5" r="1.3"/>
<circle cx="88.7" cy="336.2" r="1.3"/>
<circle cx="69.4" cy="336.6" r="1.3"/>
<circle cx="105.8" cy="299.9" r="1.3"/>
<circle cx="95.0" cy="327.4" r="1.3"/>
<circle cx="78.4" cy="328.4" r="1.3"/>
<circle cx="90.8" cy="305.2" r="1.3"/>
<circle cx="82.2" cy="318.3" r="1.3"/>
<circle cx="80.7" cy="293.4" r="1.3"/>
<circle cx="99.9" cy="306.0" r="1.3"/>
<circle cx="87.7" cy="320.7" r="1.3"/>
<circle cx="84.5" cy="333.3" r="1.3"/>
<circle cx="101.2" cy="277.9" r="1.3"/>
<circle cx="94.5" cy="300.9" r="1.3"/>
<circle cx="79.9" cy="320.5" r="1.3"/>
<circle cx="76.6" cy="316.2" r="1.3"/>
<circle cx="84.9" cy="339.9" r="1.3"/>
<circle cx="88.0" cy="320.0" r="1.3"/>
<circle cx="89.9" cy="315.8" r="1.3"/>
<circle cx="69.0" cy="333.4" r="1.3"/>
<circle cx="95.1" cy="313.6" r="1.3"/>
<circle cx="73.7" cy="330.0" r="1.3"/>
<circle cx="81.2" cy="333.1" r="1.3"/>
<circle cx="87.6" cy="313.9" r="1.3"/>
<circle cx="82.4" cy="327.0" r="1.3"/>
<circle cx="81.0" cy="315.2" r="1.3"/>
<circle cx="83.6" cy="311.8" r="1.3"/>
<circle cx="95.2" cy="308.5" r="1.3"/>
<circle cx="83.5" cy="328.2" r="1.3"/>
<circle cx="81.5" cy="314.9" r="1.3"/>
<circle cx="69.2" cy="323.7" r="1.3"/>
<circle cx="79.0" cy="332.8" r="1.3"/>
<circle cx="89.9" cy="301.3" r="1.3"/>
<circle cx="88.1" cy="317.2" r="1.3"/>
<circle cx="93.0" cy="310.0" r="1.3"/>
<circle cx="97.9" cy="305.6" r="1.3"/>
<circle cx="81.9" cy="328.5" r="1.3"/>
<circle cx="67.6" cy="345.8" r="1.3"/>
<circle cx="88.4" cy="319.6" r="1.3"/>
<circle cx="87.6" cy="324.4" r="1.3"/>
<circle cx="89.5" cy="299.3" r="1.3"/>
<circle cx="82.7" cy="325.4" r="1.3"/>
<circle cx="89.2" cy="312.5" r="1.3"/>
<circle cx="84.2" cy="304.1" r="1.3"/>
<circle cx="97.0" cy="312.4" r="1.3"/>
<circle cx="95.2" cy="305.9" r="1.3"/>
<circle cx="85.6" cy="322.2" r="1.3"/>
<circle cx="75.5" cy="313.8" r="1.3"/>
<circle cx="80.5" cy="325.2" r="1.3"/>
<circle cx="76.1" cy="321.2" r="1.3"/>
<circle cx="81.3" cy="319.6" r="1.3"/>
<circle cx="85.2" cy="317.0" r="1.3"/>
<circle cx="91.8" cy="319.1" r="1.3"/>
<circle cx="88.2" cy="317.7" r="1.3"/>
<circle cx="59.8" cy="323.2" r="1.3"/>
<circle cx="86.0" cy="325.1" r="1.3"/>
<circle cx="79.1" cy="320.1" r="1.3"/>
<circle cx="81.3" cy="335.9" r="1.3"/>
<circle cx="82.7" cy="325.2" r="1.3"/>
<circle cx="95.9" cy="306.0" r="1.3"/>
<circle cx="100.0" cy="290.4" r="1.3"/>
<circle cx="95.6" cy="308.7" r="1.3"/>
<circle cx="80.7" cy="326.1" r="1.3"/>
<circle cx="75.3" cy="321.5" r="1.3"/>
<circle cx="82.7" cy="311.8" r="1.3"/>
<circle cx="92.6" cy="295.2" r="1.3"/>
<circle cx="81.7" cy="324.9" r="1.3"/>
<circle cx="81.7" cy="324.5" r="1.3"/>
<circle cx="72.7" cy="320.7" r="1.3"/>
<circle cx="60.9" cy="343.1" r="1.3"/>
<circle cx="98.2" cy="301.0" r="1.3"/>
<circle cx="83.5" cy="314.6" r="1.3"/>
<circle cx="85.7" cy="320.7" r="1.3"/>
<circle cx="70.8" cy="332.3" r="1.3"/>
<circle cx="85.9" cy="332.9" r="1.3"/>
<circle cx="84.2" cy="334.6" r="1.3"/>
<circle cx="97.1" cy="332.5" r="1.3"/>
<circle cx="84.6" cy="319.1" r="1.3"/>
<circle cx="99.4" cy="304.5" r="1.3"/>
<circle cx="85.6" cy="303.1" r="1.3"/>
<circle cx="102.4" cy="309.7" r="1.3"/>
<circle cx="81.6" cy="317.7" r="1.3"/>
<circle cx="83.1" cy="334.5" r="1.3"/>
<circle cx="87.1" cy="314.5" r="1.3"/>
<circle cx="85.5" cy="338.2" r="1.3"/>
<circle cx="91.0" cy="307.3" r="1.3"/>
<circle cx="90.0" cy="297.0" r="1.3"/>
<circle cx="85.6" cy="304.1" r="1.3"/>
<circle cx="93.3" cy="300.0" r="1.3"/>
<circle cx="91.2" cy="301.8" r="1.3"/>
<circle cx="94.2" cy="316.9" r="1.3"/>
<circle cx="79.2" cy="329.3" r="1.3"/>
<circle cx="83.9" cy="330.9" r="1.3"/>
<circle cx="78.7" cy="324.1" r="1.3"/>
<circle cx="90.1" cy="324.2" r="1.3"/>
<circle cx="77.6" cy="330.5" r="1.3"/>
<circle cx="79.6" cy="320.2" r="1.3"/>
<circle cx="78.6" cy="327.0" r="1.3"/>
<circle cx="77.7" cy="310.6" r="1.3"/>
<circle cx="80.0" cy="311.3" r="1.3"/>
<circle cx="97.9" cy="325.2" r="1.3"/>
<circle cx="77.9" cy="329.5" r="1.3"/>
<circle cx="88.7" cy="324.3" r="1.3"/>
<circle cx="71.6" cy="317.9" r="1.3"/>
<circle cx="74.7" cy="338.1" r="1.3"/>
<circle cx="92.8" cy="318.4" r="1.3"/>
<circle cx="85.0" cy="326.7" r="1.3"/>
<circle cx="84.8" cy="335.1" r="1.3"/>
<circle cx="80.7" cy="316.7" r="1.3"/>
<circle cx="96.1" cy="321.5" r="1.3"/>
<circle cx="72.1" cy="324.2" r="1.3"/>
<circle cx="71.4" cy="326.6" r="1.3"/>
<circle cx="86.6" cy="319.8" r="1.3"/>
<circle cx="85.0" cy="320.6" r="1.3"/>
<circle cx="91.7" cy="302.7" r="1.3"/>
<circle cx="63.4" cy="325.8" r="1.3"/>
<circle cx="82.9" cy="312.9" r="1.3"/>
<circle cx="85.6" cy="322.4" r="1.3"/>
<circle cx="79.4" cy="307.3" r="1.3"/>
<circle cx="78.7" cy="329.8" r="1.3"/>
<circle cx="90.4" cy="323.5" r="1.3"/>
<circle cx="69.9" cy="317.4" r="1.3"/>
<circle cx="84.0" cy="298.5" r="1.3"/>
<circle cx="98.1" cy="296.1" r="1.3"/>
<circle cx="113.0" cy="316.5" r="1.3"/>
<circle cx="117.8" cy="281.9" r="1.3"/>
<circle cx="120.4" cy="306.0" r="1.3"/>
<circle cx="112.7" cy="266.5" r="1.3"/>
<circle cx="116.2" cy="248.3" r="1.3"/>
<circle cx="103.2" cy="290.2" r="1.3"/>
<circle cx="104.7" cy="269.4" r="1.3"/>
<circle cx="145.6" cy="273.2" r="1.3"/>
<circle cx="98.6" cy="295.4" r="1.3"/>
<circle cx="96.9" cy="284.2" r="1.3"/>
<circle cx="126.1" cy="268.5" r="1.3"/>
<circle cx="159.5" cy="182.4" r="1.3"/>
<circle cx="158.3" cy="188.4" r="1.3"/>
<circle cx="164.3" cy="190.7" r="1.3"/>
<circle cx="170.9" cy="203.9" r="1.3"/>
<circle cx="172.6" cy="211.0" r="1.3"/>
<circle cx="151.1" cy="254.0" r="1.3"/>
<circle cx="91.8" cy="271.6" r="1.3"/>
<circle cx="63.4" cy="290.3" r="1.3"/>
<circle cx="67.9" cy="292.5" r="1.3"/>
<circle cx="105.2" cy="263.4" r="1.3"/>
<circle cx="141.8" cy="269.4" r="1.3"/>
<circle cx="117.9" cy="282.1" r="1.3"/>
<circle cx="105.2" cy="328.3" r="1.3"/>
<circle cx="104.5" cy="316.4" r="1.3"/>
<circle cx="151.6" cy="254.6" r="1.3"/>
<circle cx="177.8" cy="236.6" r="1.3"/>
<circle cx="256.0" cy="164.3" r="1.3"/>
<circle cx="249.7" cy="163.4" r="1.3"/>
<circle cx="267.6" cy="187.6" r="1.3"/>
<circle cx="251.5" cy="188.5" r="1.3"/>
<circle cx="246.1" cy="202.8" r="1.3"/>
<circle cx="239.0" cy="197.5" r="1.3"/>
<circle cx="247.0" cy="177.8" r="1.3"/>
<circle cx="292.0" cy="137.5" r="1.3"/>
<circle cx="256.2" cy="139.9" r="1.3"/>
<circle cx="258.6" cy="148.9" r="1.3"/>
<circle cx="265.1" cy="150.7" r="1.3"/>
<circle cx="259.8" cy="153.7" r="1.3"/>
<circle cx="261.6" cy="155.4" r="1.3"/>
<circle cx="255.6" cy="150.0" r="1.3"/>
<circle cx="219.3" cy="220.3" r="1.3"/>
<circle cx="236.2" cy="182.5" r="1.3"/>
<circle cx="235.4" cy="190.6" r="1.3"/>
<circle cx="252.7" cy="186.0" r="1.3"/>
<circle cx="218.9" cy="217.6" r="1.3"/>
<circle cx="231.8" cy="197.8" r="1.3"/>
<circle cx="246.4" cy="176.1" r="1.3"/>
<circle cx="256.9" cy="181.0" r="1.3"/>
<circle cx="229.6" cy="206.0" r="1.3"/>
<circle cx="230.9" cy="193.2" r="1.3"/>
<circle cx="225.9" cy="199.3" r="1.3"/>
<circle cx="240.2" cy="187.9" r="1.3"/>
<circle cx="229.6" cy="192.2" r="1.3"/>
<circle cx="233.1" cy="185.1" r="1.3"/>
<circle cx="242.2" cy="188.6" r="1.3"/>
<circle cx="249.1" cy="181.6" r="1.3"/>
<circle cx="250.0" cy="183.6" r="1.3"/>
<circle cx="246.2" cy="189.6" r="1.3"/>
<circle cx="242.5" cy="185.5" r="1.3"/>
<circle cx="250.0" cy="179.0" r="1.3"/>
<circle cx="248.2" cy="187.1" r="1.3"/>
<circle cx="240.3" cy="198.5" r="1.3"/>
<circle cx="229.6" cy="206.6" r="1.3"/>
<circle cx="238.2" cy="199.3" r="1.3"/>
<circle cx="211.5" cy="223.6" r="1.3"/>
<circle cx="221.9" cy="212.6" r="1.3"/>
<circle cx="245.1" cy="190.5" r="1.3"/>
<circle cx="255.3" cy="182.6" r="1.3"/>
<circle cx="231.2" cy="201.9" r="1.3"/>
<circle cx="245.3" cy="191.6" r="1.3"/>
<circle cx="242.2" cy="185.6" r="1.3"/>
<circle cx="240.1" cy="179.8" r="1.3"/>
<circle cx="205.9" cy="232.6" r="1.3"/>
<circle cx="250.5" cy="171.9" r="1.3"/>
<circle cx="241.9" cy="176.8" r="1.3"/>
<circle cx="229.7" cy="201.9" r="1.3"/>
<circle cx="226.8" cy="212.3" r="1.3"/>
<circle cx="250.2" cy="174.1" r="1.3"/>
<circle cx="218.8" cy="214.0" r="1.3"/>
<circle cx="238.9" cy="190.1" r="1.3"/>
<circle cx="245.9" cy="191.5" r="1.3"/>
<circle cx="222.9" cy="206.6" r="1.3"/>
<circle cx="230.3" cy="191.1" r="1.3"/>
<circle cx="250.7" cy="183.6" r="1.3"/>
<circle cx="230.1" cy="200.8" r="1.3"/>
<circle cx="253.6" cy="176.4" r="1.3"/>
<circle cx="248.7" cy="171.6" r="1.3"/>
<circle cx="243.0" cy="175.5" r="1.3"/>
<circle cx="241.8" cy="189.4" r="1.3"/>
<circle cx="234.0" cy="191.0" r="1.3"/>
<circle cx="215.9" cy="217.5" r="1.3"/>
<circle cx="205.0" cy="229.7" r="1.3"/>
<circle cx="231.3" cy="230.6" r="1.3"/>
<circle cx="239.7" cy="213.9" r="1.3"/>
<circle cx="244.4" cy="201.9" r="1.3"/>
<circle cx="221.8" cy="235.3" r="1.3"/>
<circle cx="203.9" cy="242.5" r="1.3"/>
<circle cx="197.9" cy="254.4" r="1.3"/>
<circle cx="191.9" cy="254.4" r="1.3"/>
<circle cx="184.8" cy="249.7" r="1.3"/>
<circle cx="188.4" cy="237.7" r="1.3"/>
<circle cx="182.4" cy="228.2" r="1.3"/>
<circle cx="181.2" cy="236.5" r="1.3"/>
<circle cx="205.0" cy="240.0" r="1.3"/>
<circle cx="202.7" cy="236.5" r="1.3"/>
<circle cx="93.2" cy="247.8" r="1.3"/>
<circle cx="91.9" cy="271.8" r="1.3"/>
</g>
<g fill="#fff" stroke="#000" stroke-width="1.4">
<circle cx="265.1" cy="17.9" r="3.2"/>
<circle cx="234.8" cy="46.3" r="3.2"/>
<circle cx="249.1" cy="42.4" r="3.2"/>
<circle cx="256.5" cy="38.2" r="3.2"/>
<circle cx="239.8" cy="57.4" r="3.2"/>
<circle cx="244.9" cy="61.3" r="3.2"/>
<circle cx="251.5" cy="58.9" r="3.2"/>
<circle cx="249.1" cy="62.7" r="3.2"/>
<circle cx="239" cy="68.2" r="3.2"/>
<circle cx="258.4" cy="69.6" r="3.2"/>
<circle cx="259.3" cy="73.2" r="3.2"/>
<circle cx="266.8" cy="48.7" r="3.2"/>
<circle cx="266.4" cy="58.3" r="3.2"/>
<circle cx="275.7" cy="47.8" r="3.2"/>
<circle cx="265.1" cy="78.4" r="3.2"/>
<circle cx="265" cy="78.2" r="3.2"/>
<circle cx="262.7" cy="136.4" r="3.2"/>
<circle cx="268.7" cy="141.2" r="3.2"/>
<circle cx="269.4" cy="161.6" r="3.2"/>
</g>
<g>
<circle cx="144.5" cy="117.4" r="3.6" fill="#fff" stroke="#555" stroke-width="1.1"/><circle cx="144.5" cy="117.4" r="1.2" fill="#444" stroke="#777" stroke-width="0.45"/>
<circle cx="171.9" cy="88.4" r="3.6" fill="#fff" stroke="#555" stroke-width="1.1"/><circle cx="171.9" cy="88.4" r="1.2" fill="#444" stroke="#777" stroke-width="0.45"/>
<circle cx="179.7" cy="93.7" r="3.6" fill="#fff" stroke="#555" stroke-width="1.1"/><circle cx="179.7" cy="93.7" r="1.2" fill="#444" stroke="#777" stroke-width="0.45"/>
<circle cx="212.5" cy="98.7" r="3.6" fill="#fff" stroke="#555" stroke-width="1.1"/><circle cx="212.5" cy="98.7" r="1.2" fill="#444" stroke="#777" stroke-width="0.45"/>
<circle cx="134.3" cy="132.9" r="3.6" fill="#fff" stroke="#555" stroke-width="1.1"/><circle cx="134.3" cy="132.9" r="1.2" fill="#444" stroke="#777" stroke-width="0.45"/>
<circle cx="151.6" cy="153.6" r="3.6" fill="#fff" stroke="#555" stroke-width="1.1"/><circle cx="151.6" cy="153.6" r="1.2" fill="#444" stroke="#777" stroke-width="0.45"/>
</g>
<g fill="#fff" stroke="#000" stroke-width="0.9">
<path d="M246,105.6L249.4,109L246,112.4L242.6,109Z"/>
<path d="M252.5,112.1L255.9,115.5L252.5,118.9L249.1,115.5Z"/>
<path d="M259.1,115.1L262.5,118.5L259.1,121.9L255.70000000000002,118.5Z"/>
<path d="M265.7,124.1L269.09999999999997,127.5L265.7,130.9L262.3,127.5Z"/>
<path d="M275.2,125.29999999999998L278.59999999999997,128.7L275.2,132.1L271.8,128.7Z"/>
<path d="M269.9,128.2L273.29999999999995,131.6L269.9,135.0L266.5,131.6Z"/>
<path d="M221.2,108.8L224.6,112.2L221.2,115.60000000000001L217.79999999999998,112.2Z"/>
<path d="M270.5,129.4L273.9,132.8L270.5,136.20000000000002L267.1,132.8Z"/>
<path d="M266.3,124.6L269.7,128L266.3,131.4L262.90000000000003,128Z"/>
<path d="M272.8,116.3L276.1,118.7L274.8,122.6L270.8,122.6L269.5,118.7Z"/>
<path d="M275.3,125.8L278.6,128.2L277.3,132.1L273.3,132.1L272,128.2Z"/>
</g>
<g fill="#fff" stroke="#000" stroke-width="1">
<rect x="159.60000000000002" y="232.70000000000002" width="6.4" height="6.4"/>
<rect x="164.9" y="232.70000000000002" width="6.4" height="6.4"/>
<rect x="193.4" y="222.9" width="6.4" height="6.4"/>
</g>
<g fill="#333">
<circle cx="292" cy="137.5" r="1.2"/>
</g>
<g fill="#ff0000" stroke="#300" stroke-width="0.6">
<circle cx="190.8" cy="69.3" r="4.5"/>
<circle cx="195.8" cy="75.8" r="4.5"/>
<circle cx="261.6" cy="55.3" r="4.5"/>
<circle cx="273.9" cy="57.3" r="4.5"/>
<circle cx="275.7" cy="77.6" r="4.5"/>
<circle cx="275.8" cy="78.4" r="4.6"/>
<circle cx="268.4" cy="85.3" r="4.3"/>
<circle cx="246" cy="87.9" r="4.6"/>
<circle cx="262.4" cy="90.9" r="3.2"/>
<circle cx="273.2" cy="96" r="4.6"/>
<circle cx="250.1" cy="97.5" r="3.8"/>
<circle cx="251.9" cy="100.4" r="4"/>
<circle cx="263.3" cy="102.5" r="4.3"/>
<circle cx="221.3" cy="82.9" r="4.2"/>
<circle cx="219.7" cy="91.3" r="4.2"/>
<circle cx="228.9" cy="95.1" r="4.2"/>
<circle cx="228.7" cy="108.8" r="3.5"/>
<circle cx="169" cy="97.3" r="4.3"/>
<circle cx="160" cy="113.4" r="4.5"/>
<circle cx="136.7" cy="103.9" r="5.0"/>
<circle cx="146.3" cy="102.7" r="4.0"/>
<circle cx="151.6" cy="112.8" r="4.3"/>
<circle cx="154.6" cy="114.6" r="4.3"/>
<circle cx="146.3" cy="119.4" r="4"/>
<circle cx="119.5" cy="130.1" r="5.0"/>
<circle cx="145" cy="122.2" r="4.5"/>
<circle cx="151" cy="117.4" r="4.5"/>
<circle cx="145.7" cy="135.3" r="4.5"/>
<circle cx="148" cy="128" r="4.5"/>
<circle cx="154.6" cy="127" r="4.5"/>
<circle cx="143.9" cy="143.7" r="4.5"/>
<circle cx="151" cy="140" r="4.5"/>
<circle cx="157" cy="136.5" r="4.5"/>
<circle cx="155.8" cy="144.9" r="4.5"/>
<circle cx="147" cy="143.5" r="4.5"/>
<circle cx="151.5" cy="145.5" r="4.2"/>
<circle cx="158.2" cy="150.8" r="4.5"/>
<circle cx="161.2" cy="152.4" r="4.5"/>
<circle cx="167.2" cy="159" r="4.5"/>
<circle cx="173.1" cy="173.9" r="5"/>
<circle cx="184.5" cy="176.9" r="4.3"/>
<circle cx="187.5" cy="166.7" r="4.5"/>
<circle cx="192.2" cy="170.3" r="4.5"/>
<circle cx="195.8" cy="161.9" r="4.5"/>
<circle cx="167.8" cy="184" r="4.2"/>
<circle cx="177.9" cy="181.6" r="4.3"/>
<circle cx="188.1" cy="187" r="4"/>
<circle cx="180.3" cy="183.4" r="4.3"/>
<circle cx="163.6" cy="157.2" r="4.5"/>
<circle cx="176.7" cy="162" r="4.5"/>
<circle cx="183.9" cy="157.2" r="4.5"/>
<circle cx="228.4" cy="108.6" r="3.5"/>
<circle cx="236.4" cy="113.1" r="4"/>
<circle cx="183.6" cy="160.5" r="4.5"/>
<circle cx="190.7" cy="159.6" r="4.5"/>
<circle cx="203.3" cy="158.7" r="4.5"/>
<circle cx="197.9" cy="160.5" r="4.5"/>
<circle cx="209.6" cy="157.8" r="4.5"/>
<circle cx="223" cy="153.4" r="4"/>
<circle cx="222.1" cy="158.7" r="4"/>
<circle cx="228.4" cy="156" r="4"/>
<circle cx="217.6" cy="160.5" r="4"/>
<circle cx="237.3" cy="160.5" r="3.5"/>
<circle cx="237.7" cy="118.8" r="4"/>
<circle cx="236.8" cy="113.4" r="4"/>
<circle cx="247.5" cy="133.1" r="4"/>
<circle cx="242.2" cy="135.8" r="4"/>
<circle cx="236.8" cy="137.6" r="4"/>
<circle cx="244.9" cy="140.3" r="4"/>
<circle cx="238.6" cy="142.1" r="4"/>
<circle cx="260.4" cy="131" r="2.8"/>
<circle cx="146" cy="103" r="4"/>
<circle cx="151.9" cy="113.1" r="4.5"/>
<circle cx="147.2" cy="119.1" r="4.5"/>
<circle cx="154.9" cy="117.9" r="4.5"/>
<circle cx="143.6" cy="127.5" r="4.5"/>
<circle cx="152.5" cy="125.7" r="4.5"/>
<circle cx="160.9" cy="123.9" r="4.5"/>
<circle cx="147.2" cy="134.6" r="4.5"/>
<circle cx="154.9" cy="132.2" r="4.5"/>
<circle cx="161.5" cy="131" r="4.5"/>
<circle cx="151.9" cy="138.2" r="4.5"/>
<circle cx="160.3" cy="138.2" r="4.5"/>
<circle cx="140.5" cy="156.2" r="5.0"/>
<circle cx="138.1" cy="163.4" r="3.4"/>
<circle cx="145.1" cy="168.5" r="4.0"/>
<circle cx="168.1" cy="184" r="4.3"/>
<circle cx="172.8" cy="175.6" r="4.3"/>
<circle cx="178.2" cy="181" r="4.3"/>
<circle cx="178.8" cy="194.7" r="4"/>
<circle cx="209.9" cy="158.7" r="3.3"/>
<circle cx="222.6" cy="159.5" r="3.3"/>
<circle cx="227.8" cy="156.5" r="3.3"/>
<circle cx="237.5" cy="160.2" r="3.5"/>
<circle cx="198" cy="161" r="3.5"/>
<circle cx="203.2" cy="166.2" r="3.5"/>
<circle cx="209.9" cy="167.7" r="3.5"/>
<circle cx="215.1" cy="164" r="3.5"/>
<circle cx="219.6" cy="166.9" r="3.5"/>
<circle cx="197.2" cy="169.9" r="3.5"/>
<circle cx="201.7" cy="174.4" r="3.5"/>
<circle cx="206.9" cy="171.4" r="3.5"/>
<circle cx="220.4" cy="172.9" r="3.3"/>
<circle cx="203.2" cy="183.4" r="3"/>
<circle cx="220.4" cy="181.9" r="2.7"/>
<circle cx="198" cy="193.8" r="3"/>
<circle cx="195.7" cy="175.1" r="3.5"/>
<circle cx="192.9" cy="210.4" r="3.3"/>
<circle cx="196" cy="209.6" r="3"/>
<circle cx="150.1" cy="236.6" r="3"/>
<circle cx="79.9" cy="256.7" r="3.3"/>
<circle cx="79.9" cy="319.7" r="2.8"/>
<circle cx="237.2" cy="159.9" r="3"/>
<circle cx="157.4" cy="134.8" r="4.7"/>
<circle cx="159.8" cy="141.9" r="4.7"/>
<circle cx="157.4" cy="149.1" r="4.7"/>
<circle cx="166.9" cy="158.7" r="4.7"/>
<circle cx="174.1" cy="157.5" r="4.7"/>
<circle cx="168.1" cy="165.8" r="4.7"/>
<circle cx="178.9" cy="163.4" r="4.7"/>
<circle cx="186" cy="164.6" r="4.7"/>
<circle cx="192" cy="165.8" r="4.7"/>
<circle cx="166.8" cy="104.5" r="5.3"/>
<circle cx="174" cy="105.4" r="5.3"/>
<circle cx="181.1" cy="101.8" r="4.6"/>
<circle cx="186.5" cy="104.5" r="4.6"/>
<circle cx="191.9" cy="102.7" r="4.6"/>
<circle cx="178.4" cy="109.8" r="5.3"/>
<circle cx="184.7" cy="109.8" r="4.5"/>
<circle cx="191" cy="109" r="4.5"/>
<circle cx="167.7" cy="117" r="4.770404454418042"/>
<circle cx="182.9" cy="115.2" r="4.5"/>
<circle cx="189.2" cy="114.3" r="4.5"/>
<circle cx="193.6" cy="117" r="4.5"/>
<circle cx="182.9" cy="120.6" r="5.3"/>
<circle cx="189.2" cy="120.6" r="4.5"/>
<circle cx="167.7" cy="123.3" r="4.5"/>
<circle cx="171.3" cy="126.9" r="4.961448475373091"/>
<circle cx="166.8" cy="128.6" r="4.5"/>
<circle cx="185.6" cy="126" r="2.5"/>
<circle cx="191" cy="125.1" r="4.6569088649794885"/>
<circle cx="187.7" cy="101.8" r="4.5"/>
<circle cx="194" cy="100.9" r="4.5"/>
<circle cx="205.1" cy="102.7" r="4.8"/>
<circle cx="198.4" cy="111.6" r="4.8"/>
<circle cx="187.7" cy="109.8" r="4.5"/>
<circle cx="211.9" cy="115.2" r="4.5"/>
<circle cx="186.8" cy="117.9" r="4.5"/>
<circle cx="196.6" cy="118.8" r="4.5"/>
<circle cx="202" cy="117" r="4.5"/>
<circle cx="190.4" cy="123.3" r="5.3"/>
<circle cx="196.6" cy="126" r="5.3"/>
<circle cx="201.1" cy="126.9" r="5.3"/>
<circle cx="208.3" cy="128.6" r="5.3"/>
<circle cx="167.7" cy="131.6" r="4.5"/>
<circle cx="174" cy="132.5" r="5.3"/>
<circle cx="181.1" cy="133.4" r="4.118990978967031"/>
<circle cx="167.7" cy="138.7" r="4.5"/>
<circle cx="174.8" cy="142.3" r="4.5"/>
<circle cx="186.5" cy="140.5" r="4.5"/>
<circle cx="192.8" cy="138.7" r="5.082104898799413"/>
<circle cx="169.5" cy="146.8" r="4.5"/>
<circle cx="177.5" cy="147.7" r="4.5"/>
<circle cx="182.9" cy="148.6" r="4.5"/>
<circle cx="190.1" cy="145.9" r="4.3"/>
<circle cx="170.4" cy="154.9" r="4.5"/>
<circle cx="177.5" cy="154" r="4.5"/>
<circle cx="184.7" cy="154.9" r="4.5"/>
<circle cx="191.9" cy="153.1" r="4.5"/>
<circle cx="193.6" cy="129.8" r="2.5"/>
<circle cx="195.7" cy="128.6" r="3.2485291572496005"/>
<circle cx="201.1" cy="128.6" r="4.678389884036403"/>
<circle cx="206.4" cy="129.5" r="4.43279800081386"/>
<circle cx="210.9" cy="127.7" r="5.3"/>
<circle cx="210.9" cy="134" r="2.5"/>
<circle cx="194.8" cy="137.5" r="3.114365078599608"/>
<circle cx="198.4" cy="142" r="4.5"/>
<circle cx="202.8" cy="142.9" r="4.3"/>
<circle cx="195.7" cy="145.6" r="4.5"/>
<circle cx="212.7" cy="142.9" r="4.3"/>
<circle cx="220.8" cy="142" r="4.3"/>
<circle cx="215.4" cy="147.4" r="4.3"/>
<circle cx="201.1" cy="149.2" r="4.5"/>
<circle cx="196.6" cy="151.9" r="4.5"/>
<circle cx="206.4" cy="151.9" r="4.3"/>
<circle cx="219.9" cy="151" r="4.3"/>
<circle cx="177" cy="108" r="5.3"/>
<circle cx="163.5" cy="110.5" r="2.5"/>
<circle cx="181" cy="140" r="4.3"/>
<circle cx="186" cy="148" r="4.3"/>
<circle cx="168.5" cy="118.5" r="5.3"/>
<circle cx="181" cy="112.5" r="5.3"/>
<circle cx="171.5" cy="124.5" r="4.109812978891226"/>
<circle cx="163" cy="116" r="3.8332183894378344"/>
<circle cx="170" cy="104" r="5.3"/>
<circle cx="180.5" cy="120" r="3.7801476254143864"/>
<circle cx="184" cy="124" r="3.7180210161562757"/>
</g>
<line x1="53.50" y1="9.1" x2="53.50" y2="347.5" stroke="#c4c4c4" stroke-width="0.8" stroke-dasharray="1.6,0.8"/>
<line x1="108.10" y1="9.1" x2="108.10" y2="347.5" stroke="#c4c4c4" stroke-width="0.8" stroke-dasharray="1.6,0.8"/>
<line x1="162.70" y1="9.1" x2="162.70" y2="347.5" stroke="#c4c4c4" stroke-width="0.8" stroke-dasharray="1.6,0.8"/>
<line x1="217.30" y1="9.1" x2="217.30" y2="347.5" stroke="#c4c4c4" stroke-width="0.8" stroke-dasharray="1.6,0.8"/>
<line x1="271.90" y1="9.1" x2="271.90" y2="347.5" stroke="#c4c4c4" stroke-width="0.8" stroke-dasharray="1.6,0.8"/>
<line x1="326.50" y1="9.1" x2="326.50" y2="347.5" stroke="#c4c4c4" stroke-width="0.8" stroke-dasharray="1.6,0.8"/>
<line x1="53.5" y1="347.50" x2="326.5" y2="347.50" stroke="#c4c4c4" stroke-width="0.8" stroke-dasharray="1.6,0.8"/>
<line x1="53.5" y1="291.10" x2="326.5" y2="291.10" stroke="#c4c4c4" stroke-width="0.8" stroke-dasharray="1.6,0.8"/>
<line x1="53.5" y1="234.70" x2="326.5" y2="234.70" stroke="#c4c4c4" stroke-width="0.8" stroke-dasharray="1.6,0.8"/>
<line x1="53.5" y1="178.30" x2="326.5" y2="178.30" stroke="#c4c4c4" stroke-width="0.8" stroke-dasharray="1.6,0.8"/>
<line x1="53.5" y1="121.90" x2="326.5" y2="121.90" stroke="#c4c4c4" stroke-width="0.8" stroke-dasharray="1.6,0.8"/>
<line x1="53.5" y1="65.50" x2="326.5" y2="65.50" stroke="#c4c4c4" stroke-width="0.8" stroke-dasharray="1.6,0.8"/>
<line x1="53.5" y1="9.10" x2="326.5" y2="9.10" stroke="#c4c4c4" stroke-width="0.8" stroke-dasharray="1.6,0.8"/>
</g>
<text transform="translate(73.3,100.8) rotate(-27.31560797344225)" fill="#ee8a3a" font-size="11" text-anchor="start" textLength="39.5" lengthAdjust="spacingAndGlyphs">0.1 kyr</text>
<text transform="translate(73.3,157.1) rotate(-27.31560797344225)" fill="#ee8a3a" font-size="11" text-anchor="start" textLength="35.6" lengthAdjust="spacingAndGlyphs">10 kyr</text>
<text transform="translate(74.0,213.4) rotate(-27.31560797344225)" fill="#ee8a3a" font-size="11" text-anchor="start" textLength="32" lengthAdjust="spacingAndGlyphs">1 Myr</text>
<text transform="translate(74.3,271.1) rotate(-27.31560797344225)" fill="#ee8a3a" font-size="11" text-anchor="start" textLength="46" lengthAdjust="spacingAndGlyphs">100 Myr</text>
<text transform="translate(278.0,34.2) rotate(27.32)" fill="#1f77b4" font-size="12.5">10<tspan dy="-5" font-size="9">15</tspan><tspan dy="5"> G</tspan></text>
<text transform="translate(278.0,91.5) rotate(27.32)" fill="#1f77b4" font-size="12.5">10<tspan dy="-5" font-size="9">14</tspan><tspan dy="5"> G</tspan></text>
<text transform="translate(278.0,147.4) rotate(27.32)" fill="#1f77b4" font-size="12.5">10<tspan dy="-5" font-size="9">13</tspan><tspan dy="5"> G</tspan></text>
<text transform="translate(278.0,204.7) rotate(27.32)" fill="#1f77b4" font-size="12.5">10<tspan dy="-5" font-size="9">12</tspan><tspan dy="5"> G</tspan></text>
<text transform="translate(277.0,112.5) rotate(27.32)" fill="#1f77b4" font-size="12.5">Bcr</text>
<text transform="translate(116.6,181.4) rotate(-58.5)" fill="#8a2be2" font-size="12.3" textLength="67" lengthAdjust="spacingAndGlyphs">10<tspan dy="-5" font-size="8.5">37</tspan><tspan dy="5"> erg s</tspan><tspan dy="-5" font-size="8.5">−1</tspan></text>
<text transform="translate(116.6,237.8) rotate(-58.5)" fill="#8a2be2" font-size="12.3" textLength="67" lengthAdjust="spacingAndGlyphs">10<tspan dy="-5" font-size="8.5">35</tspan><tspan dy="5"> erg s</tspan><tspan dy="-5" font-size="8.5">−1</tspan></text>
<text transform="translate(116.6,294.1) rotate(-58.5)" fill="#8a2be2" font-size="12.3" textLength="67" lengthAdjust="spacingAndGlyphs">10<tspan dy="-5" font-size="8.5">33</tspan><tspan dy="5"> erg s</tspan><tspan dy="-5" font-size="8.5">−1</tspan></text>
<text transform="translate(116.6,350.5) rotate(-58.5)" fill="#8a2be2" font-size="12.3" textLength="67" lengthAdjust="spacingAndGlyphs">10<tspan dy="-5" font-size="8.5">31</tspan><tspan dy="5"> erg s</tspan><tspan dy="-5" font-size="8.5">−1</tspan></text>
<g clip-path="url(#c)"><g fill="#fff" stroke="#8c8c8c" stroke-width="0.9">
<rect x="80.9" y="265.2" width="5.4" height="5.4"/>
<rect x="77.9" y="274.2" width="5.4" height="5.4"/>
<rect x="70.4" y="278.6" width="5.4" height="5.4"/>
<rect x="98.1" y="274.9" width="5.4" height="5.4"/>
<rect x="80.9" y="282.4" width="5.4" height="5.4"/>
<rect x="86.1" y="282.4" width="5.4" height="5.4"/>
<rect x="93.6" y="286.9" width="5.4" height="5.4"/>
<rect x="83.9" y="290.6" width="5.4" height="5.4"/>
<rect x="79.4" y="290.6" width="5.4" height="5.4"/>
<rect x="69.7" y="292.1" width="5.4" height="5.4"/>
<rect x="73.4" y="292.1" width="5.4" height="5.4"/>
<rect x="92.1" y="295.1" width="5.4" height="5.4"/>
<rect x="80.9" y="295.8" width="5.4" height="5.4"/>
<rect x="98.1" y="293.6" width="5.4" height="5.4"/>
<rect x="123.4" y="248.8" width="5.4" height="5.4"/>
<rect x="124.2" y="253.3" width="5.4" height="5.4"/>
<rect x="130.1" y="251.0" width="5.4" height="5.4"/>
<rect x="136.9" y="249.5" width="5.4" height="5.4"/>
<rect x="117.4" y="260.7" width="5.4" height="5.4"/>
<rect x="107.7" y="265.2" width="5.4" height="5.4"/>
<rect x="112.2" y="266.7" width="5.4" height="5.4"/>
<rect x="125.7" y="261.5" width="5.4" height="5.4"/>
<rect x="132.4" y="266.7" width="5.4" height="5.4"/>
<rect x="141.3" y="262.2" width="5.4" height="5.4"/>
<rect x="124.9" y="269.7" width="5.4" height="5.4"/>
<rect x="98.8" y="274.9" width="5.4" height="5.4"/>
<rect x="127.9" y="274.9" width="5.4" height="5.4"/>
<rect x="128.6" y="278.6" width="5.4" height="5.4"/>
<rect x="136.9" y="277.2" width="5.4" height="5.4"/>
<rect x="142.8" y="276.4" width="5.4" height="5.4"/>
<rect x="129.4" y="283.1" width="5.4" height="5.4"/>
<rect x="133.9" y="283.9" width="5.4" height="5.4"/>
<rect x="139.8" y="283.1" width="5.4" height="5.4"/>
<rect x="142.1" y="279.4" width="5.4" height="5.4"/>
<rect x="110.7" y="281.6" width="5.4" height="5.4"/>
<rect x="109.2" y="286.1" width="5.4" height="5.4"/>
<rect x="120.4" y="288.3" width="5.4" height="5.4"/>
<rect x="111.5" y="292.1" width="5.4" height="5.4"/>
<rect x="127.2" y="292.1" width="5.4" height="5.4"/>
<rect x="133.9" y="292.8" width="5.4" height="5.4"/>
<rect x="121.2" y="293.6" width="5.4" height="5.4"/>
<rect x="146.6" y="286.1" width="5.4" height="5.4"/>
<rect x="99.5" y="296.5" width="5.4" height="5.4"/>
<rect x="116.0" y="298.0" width="5.4" height="5.4"/>
<rect x="123.4" y="296.5" width="5.4" height="5.4"/>
<rect x="129.4" y="297.3" width="5.4" height="5.4"/>
<rect x="111.5" y="302.5" width="5.4" height="5.4"/>
<rect x="117.4" y="303.3" width="5.4" height="5.4"/>
<rect x="124.2" y="308.5" width="5.4" height="5.4"/>
<rect x="114.5" y="311.5" width="5.4" height="5.4"/>
<rect x="137.6" y="304.0" width="5.4" height="5.4"/>
<rect x="133.1" y="323.4" width="5.4" height="5.4"/>
<rect x="98.8" y="316.7" width="5.4" height="5.4"/>
<rect x="131.0" y="234.7" width="5.4" height="5.4"/>
<rect x="131.0" y="239.9" width="5.4" height="5.4"/>
<rect x="153.4" y="234.7" width="5.4" height="5.4"/>
<rect x="160.1" y="219.8" width="5.4" height="5.4"/>
<rect x="161.6" y="238.4" width="5.4" height="5.4"/>
<rect x="168.3" y="242.2" width="5.4" height="5.4"/>
<rect x="172.8" y="225.0" width="5.4" height="5.4"/>
<rect x="172.1" y="254.1" width="5.4" height="5.4"/>
<rect x="136.3" y="249.6" width="5.4" height="5.4"/>
<rect x="130.3" y="250.3" width="5.4" height="5.4"/>
<rect x="159.4" y="260.1" width="5.4" height="5.4"/>
<rect x="140.7" y="260.8" width="5.4" height="5.4"/>
<rect x="174.5" y="224.2" width="5.4" height="5.4"/>
<rect x="134.5" y="194.2" width="5.4" height="5.4"/>
<rect x="123.2" y="241.9" width="5.4" height="5.4"/>
<rect x="135.3" y="245.9" width="5.4" height="5.4"/>
<rect x="124.6" y="249.9" width="5.4" height="5.4"/>
<rect x="134.0" y="255.3" width="5.4" height="5.4"/>
<rect x="124.6" y="268.8" width="5.4" height="5.4"/>
<rect x="148.8" y="270.1" width="5.4" height="5.4"/>
<rect x="150.1" y="287.6" width="5.4" height="5.4"/>
<rect x="93.6" y="286.2" width="5.4" height="5.4"/>
<rect x="119.2" y="292.9" width="5.4" height="5.4"/>
<rect x="103.1" y="294.3" width="5.4" height="5.4"/>
<rect x="90.3" y="289.2" width="5.4" height="5.4"/>
<rect x="85.4" y="312.6" width="5.4" height="5.4"/>
<rect x="76.3" y="326.0" width="5.4" height="5.4"/>
<rect x="77.8" y="324.8" width="5.4" height="5.4"/>
<rect x="77.5" y="341.1" width="5.4" height="5.4"/>
<rect x="76.0" y="302.4" width="5.4" height="5.4"/>
<rect x="70.6" y="321.5" width="5.4" height="5.4"/>
<rect x="81.3" y="302.7" width="5.4" height="5.4"/>
<rect x="65.3" y="329.9" width="5.4" height="5.4"/>
<rect x="85.9" y="311.2" width="5.4" height="5.4"/>
<rect x="94.8" y="293.1" width="5.4" height="5.4"/>
<rect x="92.6" y="323.6" width="5.4" height="5.4"/>
<rect x="92.2" y="299.3" width="5.4" height="5.4"/>
<rect x="75.7" y="338.8" width="5.4" height="5.4"/>
<rect x="79.7" y="335.7" width="5.4" height="5.4"/>
<rect x="80.5" y="293.9" width="5.4" height="5.4"/>
<rect x="90.2" y="290.3" width="5.4" height="5.4"/>
<rect x="88.2" y="308.4" width="5.4" height="5.4"/>
<rect x="59.9" y="314.1" width="5.4" height="5.4"/>
<rect x="92.1" y="328.1" width="5.4" height="5.4"/>
<rect x="96.6" y="294.0" width="5.4" height="5.4"/>
<rect x="74.1" y="296.5" width="5.4" height="5.4"/>
<rect x="101.2" y="299.7" width="5.4" height="5.4"/>
<rect x="98.5" y="312.1" width="5.4" height="5.4"/>
<rect x="80.1" y="333.4" width="5.4" height="5.4"/>
<rect x="84.3" y="310.0" width="5.4" height="5.4"/>
<rect x="70.9" y="307.9" width="5.4" height="5.4"/>
<rect x="86.0" y="296.4" width="5.4" height="5.4"/>
<rect x="64.9" y="319.9" width="5.4" height="5.4"/>
<rect x="87.9" y="318.8" width="5.4" height="5.4"/>
<rect x="88.1" y="317.7" width="5.4" height="5.4"/>
<rect x="72.4" y="341.6" width="5.4" height="5.4"/>
<rect x="84.3" y="298.8" width="5.4" height="5.4"/>
<rect x="60.6" y="311.2" width="5.4" height="5.4"/>
<rect x="86.0" y="333.5" width="5.4" height="5.4"/>
<rect x="103.1" y="297.2" width="5.4" height="5.4"/>
<rect x="75.7" y="325.7" width="5.4" height="5.4"/>
<rect x="79.5" y="315.6" width="5.4" height="5.4"/>
<rect x="97.2" y="303.3" width="5.4" height="5.4"/>
<rect x="81.8" y="330.6" width="5.4" height="5.4"/>
<rect x="91.8" y="298.2" width="5.4" height="5.4"/>
<rect x="73.9" y="313.5" width="5.4" height="5.4"/>
<rect x="85.3" y="317.3" width="5.4" height="5.4"/>
<rect x="66.3" y="330.7" width="5.4" height="5.4"/>
<rect x="71.0" y="327.3" width="5.4" height="5.4"/>
<rect x="84.9" y="311.2" width="5.4" height="5.4"/>
<rect x="78.3" y="312.5" width="5.4" height="5.4"/>
<rect x="92.5" y="305.8" width="5.4" height="5.4"/>
<rect x="78.8" y="312.2" width="5.4" height="5.4"/>
<rect x="76.3" y="330.1" width="5.4" height="5.4"/>
<rect x="85.4" y="314.5" width="5.4" height="5.4"/>
<rect x="95.2" y="302.9" width="5.4" height="5.4"/>
<rect x="64.9" y="343.1" width="5.4" height="5.4"/>
<rect x="84.9" y="321.7" width="5.4" height="5.4"/>
<rect x="80.0" y="322.7" width="5.4" height="5.4"/>
<rect x="81.5" y="301.4" width="5.4" height="5.4"/>
<rect x="92.5" y="303.2" width="5.4" height="5.4"/>
<rect x="72.8" y="311.1" width="5.4" height="5.4"/>
<rect x="73.4" y="318.5" width="5.4" height="5.4"/>
<rect x="82.5" y="314.3" width="5.4" height="5.4"/>
<rect x="85.5" y="315.0" width="5.4" height="5.4"/>
<rect x="83.3" y="322.4" width="5.4" height="5.4"/>
<rect x="78.6" y="333.2" width="5.4" height="5.4"/>
<rect x="93.2" y="303.3" width="5.4" height="5.4"/>
<rect x="92.9" y="306.0" width="5.4" height="5.4"/>
<rect x="72.6" y="318.8" width="5.4" height="5.4"/>
<rect x="89.9" y="292.5" width="5.4" height="5.4"/>
<rect x="79.0" y="321.8" width="5.4" height="5.4"/>
<rect x="58.2" y="340.4" width="5.4" height="5.4"/>
<rect x="80.8" y="311.9" width="5.4" height="5.4"/>
<rect x="68.1" y="329.6" width="5.4" height="5.4"/>
<rect x="81.5" y="331.9" width="5.4" height="5.4"/>
<rect x="81.9" y="316.4" width="5.4" height="5.4"/>
<rect x="82.9" y="300.4" width="5.4" height="5.4"/>
<rect x="78.9" y="315.0" width="5.4" height="5.4"/>
<rect x="84.4" y="311.8" width="5.4" height="5.4"/>
<rect x="88.3" y="304.6" width="5.4" height="5.4"/>
<rect x="82.9" y="301.4" width="5.4" height="5.4"/>
<rect x="88.5" y="299.1" width="5.4" height="5.4"/>
<rect x="76.5" y="326.6" width="5.4" height="5.4"/>
<rect x="76.0" y="321.4" width="5.4" height="5.4"/>
<rect x="74.9" y="327.8" width="5.4" height="5.4"/>
<rect x="75.9" y="324.3" width="5.4" height="5.4"/>
<rect x="77.3" y="308.6" width="5.4" height="5.4"/>
<rect x="75.2" y="326.8" width="5.4" height="5.4"/>
<rect x="68.9" y="315.2" width="5.4" height="5.4"/>
<rect x="90.1" y="315.7" width="5.4" height="5.4"/>
<rect x="82.1" y="332.4" width="5.4" height="5.4"/>
<rect x="93.4" y="318.8" width="5.4" height="5.4"/>
<rect x="68.7" y="323.9" width="5.4" height="5.4"/>
<rect x="82.3" y="317.9" width="5.4" height="5.4"/>
<rect x="60.7" y="323.1" width="5.4" height="5.4"/>
<rect x="82.9" y="319.7" width="5.4" height="5.4"/>
<rect x="76.0" y="327.1" width="5.4" height="5.4"/>
<rect x="67.2" y="314.7" width="5.4" height="5.4"/>
</g>
<g fill="#3c3c3c" stroke="#888" stroke-width="0.3">
<circle cx="83.6" cy="267.9" r="1.3"/>
<circle cx="80.6" cy="276.9" r="1.3"/>
<circle cx="73.1" cy="281.3" r="1.3"/>
<circle cx="100.8" cy="277.6" r="1.3"/>
<circle cx="83.6" cy="285.1" r="1.3"/>
<circle cx="88.8" cy="285.1" r="1.3"/>
<circle cx="96.3" cy="289.6" r="1.3"/>
<circle cx="86.6" cy="293.3" r="1.3"/>
<circle cx="82.1" cy="293.3" r="1.3"/>
<circle cx="72.4" cy="294.8" r="1.3"/>
<circle cx="76.1" cy="294.8" r="1.3"/>
<circle cx="94.8" cy="297.8" r="1.3"/>
<circle cx="83.6" cy="298.5" r="1.3"/>
<circle cx="100.8" cy="296.3" r="1.3"/>
<circle cx="126.1" cy="251.5" r="1.3"/>
<circle cx="126.9" cy="256.0" r="1.3"/>
<circle cx="132.8" cy="253.7" r="1.3"/>
<circle cx="139.6" cy="252.2" r="1.3"/>
<circle cx="120.1" cy="263.4" r="1.3"/>
<circle cx="110.4" cy="267.9" r="1.3"/>
<circle cx="114.9" cy="269.4" r="1.3"/>
<circle cx="128.4" cy="264.2" r="1.3"/>
<circle cx="135.1" cy="269.4" r="1.3"/>
<circle cx="144.0" cy="264.9" r="1.3"/>
<circle cx="127.6" cy="272.4" r="1.3"/>
<circle cx="101.5" cy="277.6" r="1.3"/>
<circle cx="130.6" cy="277.6" r="1.3"/>
<circle cx="131.3" cy="281.3" r="1.3"/>
<circle cx="139.6" cy="279.9" r="1.3"/>
<circle cx="145.5" cy="279.1" r="1.3"/>
<circle cx="132.1" cy="285.8" r="1.3"/>
<circle cx="136.6" cy="286.6" r="1.3"/>
<circle cx="142.5" cy="285.8" r="1.3"/>
<circle cx="144.8" cy="282.1" r="1.3"/>
<circle cx="113.4" cy="284.3" r="1.3"/>
<circle cx="111.9" cy="288.8" r="1.3"/>
<circle cx="123.1" cy="291.0" r="1.3"/>
<circle cx="114.2" cy="294.8" r="1.3"/>
<circle cx="129.9" cy="294.8" r="1.3"/>
<circle cx="136.6" cy="295.5" r="1.3"/>
<circle cx="123.9" cy="296.3" r="1.3"/>
<circle cx="149.3" cy="288.8" r="1.3"/>
<circle cx="102.2" cy="299.2" r="1.3"/>
<circle cx="118.7" cy="300.7" r="1.3"/>
<circle cx="126.1" cy="299.2" r="1.3"/>
<circle cx="132.1" cy="300.0" r="1.3"/>
<circle cx="114.2" cy="305.2" r="1.3"/>
<circle cx="120.1" cy="306.0" r="1.3"/>
<circle cx="126.9" cy="311.2" r="1.3"/>
<circle cx="117.2" cy="314.2" r="1.3"/>
<circle cx="140.3" cy="306.7" r="1.3"/>
<circle cx="135.8" cy="326.1" r="1.3"/>
<circle cx="101.5" cy="319.4" r="1.3"/>
<circle cx="133.7" cy="237.4" r="1.3"/>
<circle cx="133.7" cy="242.6" r="1.3"/>
<circle cx="156.1" cy="237.4" r="1.3"/>
<circle cx="162.8" cy="222.5" r="1.3"/>
<circle cx="164.3" cy="241.1" r="1.3"/>
<circle cx="171.0" cy="244.9" r="1.3"/>
<circle cx="175.5" cy="227.7" r="1.3"/>
<circle cx="174.8" cy="256.8" r="1.3"/>
<circle cx="139.0" cy="252.3" r="1.3"/>
<circle cx="133.0" cy="253.0" r="1.3"/>
<circle cx="162.1" cy="262.8" r="1.3"/>
<circle cx="143.4" cy="263.5" r="1.3"/>
<circle cx="177.2" cy="226.9" r="1.3"/>
<circle cx="137.2" cy="196.9" r="1.3"/>
<circle cx="125.9" cy="244.6" r="1.3"/>
<circle cx="138.0" cy="248.6" r="1.3"/>
<circle cx="127.3" cy="252.6" r="1.3"/>
<circle cx="136.7" cy="258.0" r="1.3"/>
<circle cx="127.3" cy="271.5" r="1.3"/>
<circle cx="151.5" cy="272.8" r="1.3"/>
<circle cx="152.8" cy="290.3" r="1.3"/>
<circle cx="96.3" cy="288.9" r="1.3"/>
<circle cx="121.9" cy="295.6" r="1.3"/>
<circle cx="105.8" cy="297.0" r="1.3"/>
<circle cx="93.0" cy="291.9" r="1.3"/>
<circle cx="88.1" cy="315.3" r="1.3"/>
<circle cx="79.0" cy="328.7" r="1.3"/>
<circle cx="80.5" cy="327.5" r="1.3"/>
<circle cx="80.2" cy="343.8" r="1.3"/>
<circle cx="78.7" cy="305.1" r="1.3"/>
<circle cx="73.3" cy="324.2" r="1.3"/>
<circle cx="84.0" cy="305.4" r="1.3"/>
<circle cx="68.0" cy="332.6" r="1.3"/>
<circle cx="88.6" cy="313.9" r="1.3"/>
<circle cx="97.5" cy="295.8" r="1.3"/>
<circle cx="95.3" cy="326.3" r="1.3"/>
<circle cx="94.9" cy="302.0" r="1.3"/>
<circle cx="78.4" cy="341.5" r="1.3"/>
<circle cx="82.4" cy="338.4" r="1.3"/>
<circle cx="83.2" cy="296.6" r="1.3"/>
<circle cx="92.9" cy="293.0" r="1.3"/>
<circle cx="90.9" cy="311.1" r="1.3"/>
<circle cx="62.6" cy="316.8" r="1.3"/>
<circle cx="94.8" cy="330.8" r="1.3"/>
<circle cx="99.3" cy="296.7" r="1.3"/>
<circle cx="76.8" cy="299.2" r="1.3"/>
<circle cx="103.9" cy="302.4" r="1.3"/>
<circle cx="101.2" cy="314.8" r="1.3"/>
<circle cx="82.8" cy="336.1" r="1.3"/>
<circle cx="87.0" cy="312.7" r="1.3"/>
<circle cx="73.6" cy="310.6" r="1.3"/>
<circle cx="88.7" cy="299.1" r="1.3"/>
<circle cx="67.6" cy="322.6" r="1.3"/>
<circle cx="90.6" cy="321.5" r="1.3"/>
<circle cx="90.8" cy="320.4" r="1.3"/>
<circle cx="75.1" cy="344.3" r="1.3"/>
<circle cx="87.0" cy="301.5" r="1.3"/>
<circle cx="63.3" cy="313.9" r="1.3"/>
<circle cx="88.7" cy="336.2" r="1.3"/>
<circle cx="105.8" cy="299.9" r="1.3"/>
<circle cx="78.4" cy="328.4" r="1.3"/>
<circle cx="82.2" cy="318.3" r="1.3"/>
<circle cx="99.9" cy="306.0" r="1.3"/>
<circle cx="84.5" cy="333.3" r="1.3"/>
<circle cx="94.5" cy="300.9" r="1.3"/>
<circle cx="76.6" cy="316.2" r="1.3"/>
<circle cx="88.0" cy="320.0" r="1.3"/>
<circle cx="69.0" cy="333.4" r="1.3"/>
<circle cx="73.7" cy="330.0" r="1.3"/>
<circle cx="87.6" cy="313.9" r="1.3"/>
<circle cx="81.0" cy="315.2" r="1.3"/>
<circle cx="95.2" cy="308.5" r="1.3"/>
<circle cx="81.5" cy="314.9" r="1.3"/>
<circle cx="79.0" cy="332.8" r="1.3"/>
<circle cx="88.1" cy="317.2" r="1.3"/>
<circle cx="97.9" cy="305.6" r="1.3"/>
<circle cx="67.6" cy="345.8" r="1.3"/>
<circle cx="87.6" cy="324.4" r="1.3"/>
<circle cx="82.7" cy="325.4" r="1.3"/>
<circle cx="84.2" cy="304.1" r="1.3"/>
<circle cx="95.2" cy="305.9" r="1.3"/>
<circle cx="75.5" cy="313.8" r="1.3"/>
<circle cx="76.1" cy="321.2" r="1.3"/>
<circle cx="85.2" cy="317.0" r="1.3"/>
<circle cx="88.2" cy="317.7" r="1.3"/>
<circle cx="86.0" cy="325.1" r="1.3"/>
<circle cx="81.3" cy="335.9" r="1.3"/>
<circle cx="95.9" cy="306.0" r="1.3"/>
<circle cx="95.6" cy="308.7" r="1.3"/>
<circle cx="75.3" cy="321.5" r="1.3"/>
<circle cx="92.6" cy="295.2" r="1.3"/>
<circle cx="81.7" cy="324.5" r="1.3"/>
<circle cx="60.9" cy="343.1" r="1.3"/>
<circle cx="83.5" cy="314.6" r="1.3"/>
<circle cx="70.8" cy="332.3" r="1.3"/>
<circle cx="84.2" cy="334.6" r="1.3"/>
<circle cx="84.6" cy="319.1" r="1.3"/>
<circle cx="85.6" cy="303.1" r="1.3"/>
<circle cx="81.6" cy="317.7" r="1.3"/>
<circle cx="87.1" cy="314.5" r="1.3"/>
<circle cx="91.0" cy="307.3" r="1.3"/>
<circle cx="85.6" cy="304.1" r="1.3"/>
<circle cx="91.2" cy="301.8" r="1.3"/>
<circle cx="79.2" cy="329.3" r="1.3"/>
<circle cx="78.7" cy="324.1" r="1.3"/>
<circle cx="77.6" cy="330.5" r="1.3"/>
<circle cx="78.6" cy="327.0" r="1.3"/>
<circle cx="80.0" cy="311.3" r="1.3"/>
<circle cx="77.9" cy="329.5" r="1.3"/>
<circle cx="71.6" cy="317.9" r="1.3"/>
<circle cx="92.8" cy="318.4" r="1.3"/>
<circle cx="84.8" cy="335.1" r="1.3"/>
<circle cx="96.1" cy="321.5" r="1.3"/>
<circle cx="71.4" cy="326.6" r="1.3"/>
<circle cx="85.0" cy="320.6" r="1.3"/>
<circle cx="63.4" cy="325.8" r="1.3"/>
<circle cx="85.6" cy="322.4" r="1.3"/>
<circle cx="78.7" cy="329.8" r="1.3"/>
<circle cx="69.9" cy="317.4" r="1.3"/>
</g>
<g fill="#ff0000" stroke="#300" stroke-width="0.6"><circle cx="79.9" cy="319.7" r="2.9"/><circle cx="80.1" cy="257" r="3.4"/></g>
<line x1="42.58" y1="144.74" x2="337.42" y2="297.02" stroke="#1f77b4" stroke-width="1.0" stroke-dasharray="1.5,0.5" stroke-opacity="0.9"/>
<line x1="42.58" y1="88.34" x2="337.42" y2="240.62" stroke="#1f77b4" stroke-width="1.0" stroke-dasharray="1.5,0.5" stroke-opacity="0.9"/>
<line x1="42.58" y1="31.94" x2="337.42" y2="184.22" stroke="#1f77b4" stroke-width="1.0" stroke-dasharray="1.5,0.5" stroke-opacity="0.9"/>
<line x1="42.58" y1="-24.46" x2="337.42" y2="127.82" stroke="#1f77b4" stroke-width="1.0" stroke-dasharray="1.5,0.5" stroke-opacity="0.9"/>
<line x1="42.58" y1="-80.86" x2="337.42" y2="71.42" stroke="#1f77b4" stroke-width="1.0" stroke-dasharray="1.5,0.5" stroke-opacity="0.9"/>
<line x1="42.58" y1="-4.43" x2="337.42" y2="147.85" stroke="#1f77b4" stroke-width="1.3" stroke-opacity="0.95"/>
<line x1="42.58" y1="121.90" x2="337.42" y2="-30.38" stroke="#f4a460" stroke-width="1.0" stroke-dasharray="1.5,0.5" stroke-opacity="1"/>
<line x1="42.58" y1="178.30" x2="337.42" y2="26.02" stroke="#f4a460" stroke-width="1.0" stroke-dasharray="1.5,0.5" stroke-opacity="1"/>
<line x1="42.58" y1="234.70" x2="337.42" y2="82.42" stroke="#f4a460" stroke-width="1.0" stroke-dasharray="1.5,0.5" stroke-opacity="1"/>
<line x1="42.58" y1="291.10" x2="337.42" y2="138.82" stroke="#f4a460" stroke-width="1.0" stroke-dasharray="1.5,0.5" stroke-opacity="1"/>
<line x1="42.58" y1="465.83" x2="337.42" y2="8.99" stroke="#8a2be2" stroke-width="1.05" stroke-dasharray="1.5,0.5" stroke-opacity="0.9"/>
<line x1="42.58" y1="409.43" x2="337.42" y2="-47.41" stroke="#8a2be2" stroke-width="1.05" stroke-dasharray="1.5,0.5" stroke-opacity="0.9"/>
<line x1="42.58" y1="353.03" x2="337.42" y2="-103.81" stroke="#8a2be2" stroke-width="1.05" stroke-dasharray="1.5,0.5" stroke-opacity="0.9"/>
<line x1="42.58" y1="296.63" x2="337.42" y2="-160.21" stroke="#8a2be2" stroke-width="1.05" stroke-dasharray="1.5,0.5" stroke-opacity="0.9"/>
<line x1="94.9" y1="347.2" x2="326.5" y2="108.7" stroke="#ffa21a" stroke-width="1.3"/>
</g>
<path d="M53.5,9V348" stroke="#6a6a6a" stroke-width="1" fill="none"/>
<path d="M326.5,9V348" stroke="#a8a8a8" stroke-width="1" fill="none"/>
<path d="M53,9.5H327" stroke="#5a5a5a" stroke-width="1" fill="none"/>
<path d="M53,347.5H327" stroke="#4a4a4a" stroke-width="1" fill="none"/>
<path d="M53.50,347v-2.8M53.50,10v2.8M69.94,347v-1.6M69.94,10v1.6M79.55,347v-1.6M79.55,10v1.6M86.37,347v-1.6M86.37,10v1.6M91.66,347v-1.6M91.66,10v1.6M95.99,347v-1.6M95.99,10v1.6M99.64,347v-1.6M99.64,10v1.6M102.81,347v-1.6M102.81,10v1.6M105.60,347v-1.6M105.60,10v1.6M108.10,347v-2.8M108.10,10v2.8M124.54,347v-1.6M124.54,10v1.6M134.15,347v-1.6M134.15,10v1.6M140.97,347v-1.6M140.97,10v1.6M146.26,347v-1.6M146.26,10v1.6M150.59,347v-1.6M150.59,10v1.6M154.24,347v-1.6M154.24,10v1.6M157.41,347v-1.6M157.41,10v1.6M160.20,347v-1.6M160.20,10v1.6M162.70,347v-2.8M162.70,10v2.8M179.14,347v-1.6M179.14,10v1.6M188.75,347v-1.6M188.75,10v1.6M195.57,347v-1.6M195.57,10v1.6M200.86,347v-1.6M200.86,10v1.6M205.19,347v-1.6M205.19,10v1.6M208.84,347v-1.6M208.84,10v1.6M212.01,347v-1.6M212.01,10v1.6M214.80,347v-1.6M214.80,10v1.6M217.30,347v-2.8M217.30,10v2.8M233.74,347v-1.6M233.74,10v1.6M243.35,347v-1.6M243.35,10v1.6M250.17,347v-1.6M250.17,10v1.6M255.46,347v-1.6M255.46,10v1.6M259.79,347v-1.6M259.79,10v1.6M263.44,347v-1.6M263.44,10v1.6M266.61,347v-1.6M266.61,10v1.6M269.40,347v-1.6M269.40,10v1.6M271.90,347v-2.8M271.90,10v2.8M288.34,347v-1.6M288.34,10v1.6M297.95,347v-1.6M297.95,10v1.6M304.77,347v-1.6M304.77,10v1.6M310.06,347v-1.6M310.06,10v1.6M314.39,347v-1.6M314.39,10v1.6M318.04,347v-1.6M318.04,10v1.6M321.21,347v-1.6M321.21,10v1.6M324.00,347v-1.6M324.00,10v1.6M326.50,347v-2.8M326.50,10v2.8M54,347.50h2.8M326,347.50h-2.8M54,291.10h2.8M326,291.10h-2.8M54,234.70h2.8M326,234.70h-2.8M54,178.30h2.8M326,178.30h-2.8M54,121.90h2.8M326,121.90h-2.8M54,65.50h2.8M326,65.50h-2.8M54,9.10h2.8M326,9.10h-2.8" stroke="#444" stroke-width="0.65" fill="none"/>
<text x="53.50" y="358" font-size="11" text-anchor="middle" fill="#000">10<tspan dy="-4.5" font-size="8">−3</tspan></text>
<text x="108.10" y="358" font-size="11" text-anchor="middle" fill="#000">10<tspan dy="-4.5" font-size="8">−2</tspan></text>
<text x="162.70" y="358" font-size="11" text-anchor="middle" fill="#000">10<tspan dy="-4.5" font-size="8">−1</tspan></text>
<text x="217.30" y="358" font-size="11" text-anchor="middle" fill="#000">10<tspan dy="-4.5" font-size="8">0</tspan></text>
<text x="271.90" y="358" font-size="11" text-anchor="middle" fill="#000">10<tspan dy="-4.5" font-size="8">1</tspan></text>
<text x="326.50" y="358" font-size="11" text-anchor="middle" fill="#000">10<tspan dy="-4.5" font-size="8">2</tspan></text>
<text x="49.5" y="351.90" font-size="11" text-anchor="end" fill="#000">10<tspan dy="-4.5" font-size="8">−21</tspan></text>
<text x="49.5" y="295.50" font-size="11" text-anchor="end" fill="#000">10<tspan dy="-4.5" font-size="8">−19</tspan></text>
<text x="49.5" y="239.10" font-size="11" text-anchor="end" fill="#000">10<tspan dy="-4.5" font-size="8">−17</tspan></text>
<text x="49.5" y="182.70" font-size="11" text-anchor="end" fill="#000">10<tspan dy="-4.5" font-size="8">−15</tspan></text>
<text x="49.5" y="126.30" font-size="11" text-anchor="end" fill="#000">10<tspan dy="-4.5" font-size="8">−13</tspan></text>
<text x="49.5" y="69.90" font-size="11" text-anchor="end" fill="#000">10<tspan dy="-4.5" font-size="8">−11</tspan></text>
<text x="49.5" y="13.50" font-size="11" text-anchor="end" fill="#000">10<tspan dy="-4.5" font-size="8">−9</tspan></text>
<text x="189.6" y="374.1" font-size="11.5" text-anchor="middle" fill="#000" textLength="53.5" lengthAdjust="spacingAndGlyphs">Period (s)</text>
<text transform="translate(15.2,178.7) rotate(-90)" font-size="11.5" text-anchor="middle" fill="#000" textLength="140.5" lengthAdjust="spacingAndGlyphs">Period Derivative (s s<tspan dy="-4.5" font-size="8.5">−1</tspan><tspan dy="4.5">)</tspan></text>
<rect x="271.8" y="327.6" width="51" height="14.8" rx="2" ry="2" fill="#fff" fill-opacity="0.85" stroke="#d0d0d0" stroke-width="0.8"/>
<circle cx="283.4" cy="335" r="4.2" fill="#ff0000" stroke="#300" stroke-width="0.6"/>
<text x="292.6" y="338.3" font-size="10.5" fill="#000" textLength="25.3" lengthAdjust="spacingAndGlyphs">Glitch</text>
</svg></body></html>
